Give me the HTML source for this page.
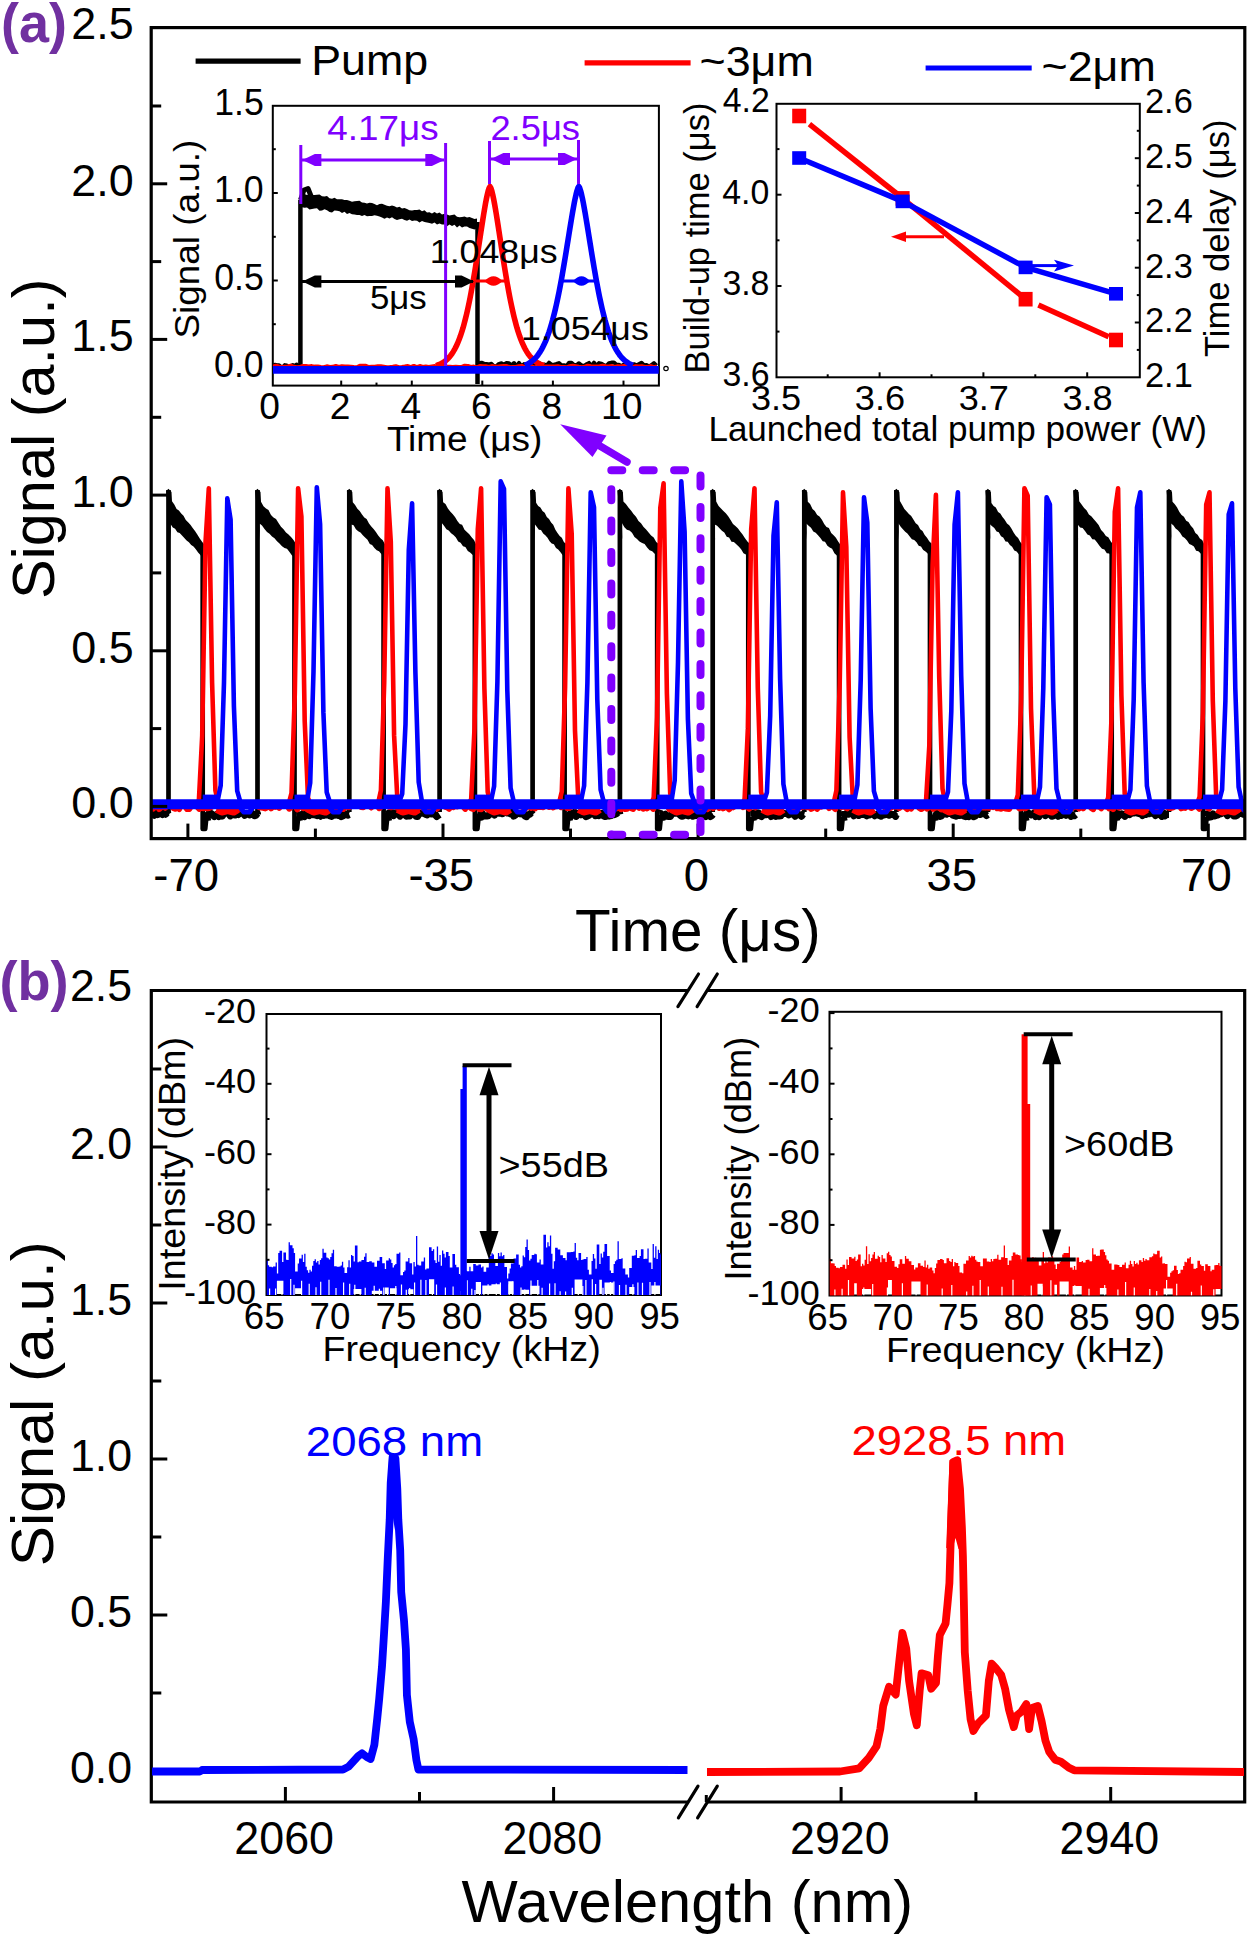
<!DOCTYPE html>
<html><head><meta charset="utf-8"><style>
html,body{margin:0;padding:0;background:#fff;}
svg{display:block;}
text{font-family:"Liberation Sans", sans-serif;}
</style></head><body>
<svg width="1250" height="1938" viewBox="0 0 1250 1938">
<defs>
<clipPath id="clipA"><rect x="151.2" y="27.6" width="1093.6" height="811"/></clipPath>
<clipPath id="clipI1"><rect x="272.8" y="105.8" width="386.1" height="279.8"/></clipPath>
</defs>
<rect width="1250" height="1938" fill="#fff"/>
<g clip-path="url(#clipA)">
<polyline points="151.2,813.7 152.8,813 154.4,815.2 156,812.6 157.6,814.7 159.2,813.9 160.8,812.6 162.4,814.5 164,812.5 165.6,814.2 167.2,812.6 168.5,814.5" fill="none" stroke="#000" stroke-width="7" stroke-linejoin="round"/>
<polyline points="204.7,812.7 206.3,814.2 207.9,815.9 209.5,812.8 211.1,813.3 212.7,815.1 214.3,816.5 215.9,814.8 217.5,814 219.1,816.6 220.7,812.5 222.3,816.1 223.9,813.6 225.5,812.9 227.1,812.8 228.7,813.7 230.3,815.9 231.9,813.1 233.5,814.9 235.1,815.1 236.7,813.9 238.3,814.7 239.9,812.6 241.5,812.6 243.1,813.2 244.7,815.3 246.3,814.2 247.9,813.7 249.5,814.9 251.1,814.3 252.7,813.6 254.3,815.8 255.9,815.4 257.5,813.4 257.5,814.5" fill="none" stroke="#000" stroke-width="7" stroke-linejoin="round"/>
<polyline points="296.5,814.8 298.1,814.6 299.7,816.2 301.3,815.5 302.9,813.6 304.5,816.6 306.1,812.8 307.7,814.1 309.3,815.6 310.9,813 312.5,814.5 314.1,812.5 315.7,815.2 317.3,815.7 318.9,814.8 320.5,816.2 322.1,813.7 323.7,815.4 325.3,814.9 326.9,814.9 328.5,814.3 330.1,816 331.7,816.5 333.3,814.4 334.9,815.2 336.5,812.6 338.1,815.4 339.7,815.1 341.3,816.7 342.9,815.9 344.5,813.6 346.1,814 347.7,815.2 349.3,814.5" fill="none" stroke="#000" stroke-width="7" stroke-linejoin="round"/>
<polyline points="385.6,812.4 387.2,814.3 388.8,813 390.4,812.8 392,812.6 393.6,815.7 395.2,812.9 396.8,813.4 398.4,814 400,816.1 401.6,812.7 403.2,814.3 404.8,814.7 406.4,816.2 408,815.9 409.6,816.1 411.2,813.5 412.8,814.1 414.4,813.9 416,816.2 417.6,816.5 419.2,813 420.8,813.1 422.4,813.3 424,813.3 425.6,814.4 427.2,814.9 428.8,813.5 430.4,812.3 432,814.1 433.6,813.9 435.2,814.8 436.8,816.5 438.4,815.3 439.6,814.5" fill="none" stroke="#000" stroke-width="7" stroke-linejoin="round"/>
<polyline points="476.9,814.6 478.5,815 480.1,815.3 481.7,812.5 483.3,816.3 484.9,815.7 486.5,816.1 488.1,815.8 489.7,814 491.3,814.1 492.9,812.8 494.5,815.1 496.1,812.6 497.7,812.6 499.3,813.2 500.9,813 502.5,813.8 504.1,812.5 505.7,812.3 507.3,813 508.9,812.7 510.5,813.9 512.1,812.4 513.7,816.1 515.3,815 516.9,813 518.5,813.4 520.1,813.8 521.7,813.9 523.3,812.8 524.9,816 526.5,816.7 528.1,814.4 529.7,814.4 531.3,812.7 532.6,814.5" fill="none" stroke="#000" stroke-width="7" stroke-linejoin="round"/>
<polyline points="566.6,812.7 568.2,813.8 569.8,813.5 571.4,815.9 573,813 574.6,812.4 576.2,816.5 577.8,814.6 579.4,812.9 581,814.7 582.6,812.4 584.2,814.6 585.8,816.6 587.4,816.1 589,815.4 590.6,813.4 592.2,813.9 593.8,813 595.4,815.7 597,814.6 598.6,815.7 600.2,813.8 601.8,813.3 603.4,815.9 605,816.6 606.6,816.1 608.2,815.8 609.8,815.9 611.4,815.6 613,813.3 614.6,814.6 616.2,813.9 617.8,812.4 619.4,812.4 619.9,814.5" fill="none" stroke="#000" stroke-width="7" stroke-linejoin="round"/>
<polyline points="659.2,813.5 660.8,813.4 662.4,815.3 664,816.5 665.6,814.3 667.2,816.4 668.8,816.6 670.4,816.5 672,813.9 673.6,813.3 675.2,813.3 676.8,813.2 678.4,813.2 680,815 681.6,816.3 683.2,816 684.8,814.4 686.4,815.2 688,815.8 689.6,812.7 691.2,815.2 692.8,816.3 694.4,815.7 696,815.6 697.6,814.4 699.2,813.1 700.8,815.8 702.4,813.8 704,815.8 705.6,816.6 707.2,814 708.8,814.1 710.4,816.5 712,815.5 712.7,814.5" fill="none" stroke="#000" stroke-width="7" stroke-linejoin="round"/>
<polyline points="750.3,813 751.9,812.9 753.5,813 755.1,816.3 756.7,815.8 758.3,812.9 759.9,815.9 761.5,816.6 763.1,815.2 764.7,813.8 766.3,814.7 767.9,812.9 769.5,812.4 771.1,816.6 772.7,815.2 774.3,814.6 775.9,816.4 777.5,814.2 779.1,816.1 780.7,815.9 782.3,813.2 783.9,813.4 785.5,813.6 787.1,813.4 788.7,814.9 790.3,813.4 791.9,814.1 793.5,812.9 795.1,816.3 796.7,813.9 798.3,814.3 799.9,814.9 801.5,816.3 803.1,814.2 804.3,814.5" fill="none" stroke="#000" stroke-width="7" stroke-linejoin="round"/>
<polyline points="841.1,816.3 842.7,814.5 844.3,814.6 845.9,814.6 847.5,812.4 849.1,814.2 850.7,813.1 852.3,812.3 853.9,815.8 855.5,813.1 857.1,814.4 858.7,815.5 860.3,814.7 861.9,813.7 863.5,814.6 865.1,814.7 866.7,815.8 868.3,812.8 869.9,814.8 871.5,813.4 873.1,813.5 874.7,815.7 876.3,814.5 877.9,814.8 879.5,815.6 881.1,816.3 882.7,814.3 884.3,815 885.9,814.5 887.5,814.6 889.1,815.3 890.7,814.3 892.3,814.6 893.9,814.4 895.5,816.4 896.4,814.5" fill="none" stroke="#000" stroke-width="7" stroke-linejoin="round"/>
<polyline points="932,815.4 933.6,816.2 935.2,816.4 936.8,813.4 938.4,814.8 940,816.5 941.6,816 943.2,812.9 944.8,812.8 946.4,814.2 948,812.6 949.6,813.4 951.2,812.6 952.8,815.2 954.4,815.7 956,816.2 957.6,813 959.2,815.5 960.8,815.2 962.4,812.9 964,816.2 965.6,816.6 967.2,813.3 968.8,816.5 970.4,814.1 972,814.4 973.6,816.7 975.2,816 976.8,813 978.4,814.2 980,814.6 981.6,813.8 983.2,813.2 984.8,813.7 986.4,815.5 987.9,814.5" fill="none" stroke="#000" stroke-width="7" stroke-linejoin="round"/>
<polyline points="1023,812.4 1024.6,814.7 1026.2,814.2 1027.8,812.4 1029.4,813.8 1031,815 1032.6,814.6 1034.2,812.6 1035.8,816.6 1037.4,815.8 1039,816.6 1040.6,812.8 1042.2,813.5 1043.8,812.5 1045.4,815.7 1047,813.5 1048.6,812.9 1050.2,814.2 1051.8,816.3 1053.4,815.9 1055,813.4 1056.6,813 1058.2,816.3 1059.8,814.8 1061.4,815.4 1063,812.7 1064.6,812.6 1066.2,815.3 1067.8,814.2 1069.4,812.6 1071,816.4 1072.6,815.1 1074.2,815.8 1075.7,814.5" fill="none" stroke="#000" stroke-width="7" stroke-linejoin="round"/>
<polyline points="1113.7,812.7 1115.3,816.1 1116.9,812.6 1118.5,816.1 1120.1,814.3 1121.7,813.8 1123.3,814.7 1124.9,816.4 1126.5,813.5 1128.1,812.9 1129.7,814.6 1131.3,813.3 1132.9,812.8 1134.5,813 1136.1,812.5 1137.7,813.2 1139.3,813.7 1140.9,813.6 1142.5,815.6 1144.1,813.6 1145.7,814.5 1147.3,813.1 1148.9,813.8 1150.5,812.4 1152.1,813.4 1153.7,812.4 1155.3,815.5 1156.9,814.7 1158.5,813.1 1160.1,814.4 1161.7,816.4 1163.3,812.8 1164.9,815.9 1166.5,814.2 1168.1,814.5 1169,814.5" fill="none" stroke="#000" stroke-width="7" stroke-linejoin="round"/>
<polyline points="1205,816 1206.6,814 1208.2,814.5 1209.8,815.3 1211.4,816.6 1213,813.8 1214.6,816 1216.2,815.4 1217.8,815.1 1219.4,814.1 1221,813.8 1222.6,812.5 1224.2,812.9 1225.8,812.6 1227.4,815.6 1229,813.4 1230.6,813 1232.2,812.7 1233.8,816 1235.4,816.1 1237,815.3 1238.6,813.5 1240.2,813.4 1241.8,813.6 1243.4,814.3 1244.8,814.5" fill="none" stroke="#000" stroke-width="7" stroke-linejoin="round"/>
<line x1="168.5" y1="812" x2="168.5" y2="490" stroke="#000" stroke-width="4.7"/>
<polygon points="166.1,491 168.5,488.8 171.5,492 172,501.2 174.3,504.4 176.6,509.1 178.9,510.4 181.2,513.5 183.5,515.8 185.8,519.9 188.1,522.3 190.4,524.8 192.7,528 195,530.9 197.3,534.5 199.6,538.2 201.9,541.6 204.2,544.5 204.7,551 202.7,557.9 200.4,555 198.1,552.4 195.8,549.3 193.5,546.4 191.2,545 188.9,542.3 186.6,540.5 184.3,538.1 182,535.5 179.7,533.1 177.4,532.2 175.1,528.8 172.8,527.5 170.5,523.9 170.9,540" fill="#000"/>
<polyline points="202.7,548 202.7,829 205.2,829 206.2,819 210.7,818" fill="none" stroke="#000" stroke-width="4.7" stroke-linejoin="round"/>
<line x1="257.5" y1="812" x2="257.5" y2="490" stroke="#000" stroke-width="4.7"/>
<polygon points="255.1,491 257.5,488.8 260.5,492 261,501.7 263.5,506.2 266,508.5 268.5,509.9 271,514.9 273.5,517.6 276,519.1 278.5,523 281,526.7 283.5,529.2 286,532.4 288.5,534.4 291,537.1 293.5,540.1 296,544.1 296.5,551 294.5,557.3 292,555.4 289.5,552 287,548.8 284.5,548 282,546.2 279.5,543.6 277,541.3 274.5,538.2 272,536.5 269.5,533.7 267,531.9 264.5,529.1 262,525.5 259.5,523.6 259.9,540" fill="#000"/>
<polyline points="294.5,548 294.5,829 297,829 298,819 302.5,818" fill="none" stroke="#000" stroke-width="4.7" stroke-linejoin="round"/>
<line x1="349.3" y1="812" x2="349.3" y2="490" stroke="#000" stroke-width="4.7"/>
<polygon points="346.9,491 349.3,488.8 352.3,492 352.8,502.3 355.1,505 357.4,508.7 359.7,511 362,514.4 364.3,517.6 366.6,519 369,523.6 371.3,526.6 373.6,529 375.9,531.9 378.2,535.6 380.5,538.3 382.8,540.2 385.1,544.6 385.6,551 383.6,556.5 381.3,554.1 379,551.3 376.7,550.2 374.4,548 372.1,544.9 369.8,544 367.5,539.8 365.1,537.6 362.8,535.2 360.5,532.4 358.2,531.2 355.9,529.3 353.6,525.2 351.3,524.4 351.7,540" fill="#000"/>
<polyline points="383.6,548 383.6,829 386.1,829 387.1,819 391.6,818" fill="none" stroke="#000" stroke-width="4.7" stroke-linejoin="round"/>
<line x1="439.6" y1="812" x2="439.6" y2="490" stroke="#000" stroke-width="4.7"/>
<polygon points="437.2,491 439.6,488.8 442.6,492 443.1,502.2 445.5,503.9 447.9,508.4 450.2,511.4 452.6,514 455,516.9 457.4,520.9 459.8,524.1 462.1,524.8 464.5,529.8 466.9,531.9 469.3,534.3 471.6,537.3 474,540.1 476.4,545.1 476.9,551 474.9,556.1 472.5,554.7 470.1,552.5 467.8,551 465.4,547 463,546.3 460.6,542.8 458.2,541.5 455.9,537.4 453.5,534.9 451.1,533.3 448.7,530.6 446.4,529.2 444,525.8 441.6,522.8 442,540" fill="#000"/>
<polyline points="474.9,548 474.9,829 477.4,829 478.4,819 482.9,818" fill="none" stroke="#000" stroke-width="4.7" stroke-linejoin="round"/>
<line x1="532.6" y1="812" x2="532.6" y2="490" stroke="#000" stroke-width="4.7"/>
<polygon points="530.2,491 532.6,488.8 535.6,492 536.1,502.8 538.2,505.9 540.4,507.4 542.5,511 544.7,512.8 546.8,516.9 549,519.1 551.1,522.6 553.2,524.8 555.4,529.8 557.5,533 559.7,536 561.8,537.7 564,542.2 566.1,543.7 566.6,551 564.6,556.8 562.5,554.9 560.3,552 558.2,549.4 556,548.1 553.9,544.3 551.7,543.5 549.6,541.3 547.5,537.8 545.3,535.3 543.2,533.4 541,529.9 538.9,529.7 536.7,526.8 534.6,524 535,540" fill="#000"/>
<polyline points="564.6,548 564.6,829 567.1,829 568.1,819 572.6,818" fill="none" stroke="#000" stroke-width="4.7" stroke-linejoin="round"/>
<line x1="619.9" y1="812" x2="619.9" y2="490" stroke="#000" stroke-width="4.7"/>
<polygon points="617.5,491 619.9,488.8 622.9,492 623.4,501.5 625.9,504 628.4,507.5 631,510.4 633.5,514 636,516.7 638.5,520.9 641,523.3 643.6,527.1 646.1,529.5 648.6,532.6 651.1,535.6 653.7,537.5 656.2,542 658.7,543.9 659.2,551 657.2,556.6 654.7,553.7 652.2,551.2 649.6,550.3 647.1,547.5 644.6,544.1 642.1,543 639.5,541.5 637,538.9 634.5,536.9 632,532.7 629.5,530.5 626.9,529.8 624.4,527.2 621.9,522.9 622.3,540" fill="#000"/>
<polyline points="657.2,548 657.2,829 659.7,829 660.7,819 665.2,818" fill="none" stroke="#000" stroke-width="4.7" stroke-linejoin="round"/>
<line x1="712.7" y1="812" x2="712.7" y2="490" stroke="#000" stroke-width="4.7"/>
<polygon points="710.3,491 712.7,488.8 715.7,492 716.2,501.5 718.6,506.1 721,508.4 723.4,511.1 725.8,513.2 728.2,516.3 730.6,520 733,524 735.4,525.9 737.8,528.3 740.2,531.6 742.6,534.4 745,538.2 747.4,541.6 749.8,543.8 750.3,551 748.3,557.1 745.9,554.4 743.5,553.2 741.1,549.3 738.7,546.6 736.3,544.2 733.9,542 731.5,541.7 729.1,537.5 726.7,536.8 724.3,532.6 721.9,530.8 719.5,528.2 717.1,525.8 714.7,524.6 715.1,540" fill="#000"/>
<polyline points="748.3,548 748.3,829 750.8,829 751.8,819 756.3,818" fill="none" stroke="#000" stroke-width="4.7" stroke-linejoin="round"/>
<line x1="804.3" y1="812" x2="804.3" y2="490" stroke="#000" stroke-width="4.7"/>
<polygon points="801.9,491 804.3,488.8 807.3,492 807.8,501.7 810.1,503.9 812.5,509.1 814.8,511 817.2,514.9 819.5,516.5 821.9,519.8 824.2,524.1 826.5,526.9 828.9,527.9 831.2,532.9 833.6,535.2 835.9,537.7 838.3,541.8 840.6,545.1 841.1,551 839.1,556.4 836.8,555.5 834.4,553.3 832.1,548.7 829.7,547.5 827.4,545.7 825,541.7 822.7,541.3 820.4,538 818,535.2 815.7,532.7 813.3,531.4 811,527.8 808.6,525.8 806.3,523.6 806.7,540" fill="#000"/>
<polyline points="839.1,548 839.1,829 841.6,829 842.6,819 847.1,818" fill="none" stroke="#000" stroke-width="4.7" stroke-linejoin="round"/>
<line x1="896.4" y1="812" x2="896.4" y2="490" stroke="#000" stroke-width="4.7"/>
<polygon points="894,491 896.4,488.8 899.4,492 899.9,501.1 902.2,505.1 904.4,509.1 906.7,511.4 908.9,513.9 911.2,515.9 913.4,519.4 915.7,523.3 918,525.1 920.2,529.3 922.5,531.1 924.7,535.1 927,537.7 929.2,541.2 931.5,543.5 932,551 930,556.9 927.7,553.5 925.5,551.6 923.2,550.1 921,546.5 918.7,545.7 916.5,542.3 914.2,540 911.9,539.2 909.7,536.5 907.4,533.6 905.2,531.7 902.9,529.2 900.7,526.8 898.4,523.2 898.8,540" fill="#000"/>
<polyline points="930,548 930,829 932.5,829 933.5,819 938,818" fill="none" stroke="#000" stroke-width="4.7" stroke-linejoin="round"/>
<line x1="987.9" y1="812" x2="987.9" y2="490" stroke="#000" stroke-width="4.7"/>
<polygon points="985.5,491 987.9,488.8 990.9,492 991.4,503.1 993.6,505.9 995.8,507.4 998.1,512.1 1000.3,513.5 1002.5,517 1004.7,519.8 1007,523.4 1009.2,525.3 1011.4,528.6 1013.6,532.4 1015.8,535.7 1018.1,538 1020.3,542.1 1022.5,544.8 1023,551 1021,556.4 1018.8,554.2 1016.6,551.6 1014.3,550.5 1012.1,546.8 1009.9,545 1007.7,541.7 1005.5,541.5 1003.2,537.6 1001,536.2 998.8,532.3 996.6,531.6 994.3,528.1 992.1,526.3 989.9,524.3 990.3,540" fill="#000"/>
<polyline points="1021,548 1021,829 1023.5,829 1024.5,819 1029,818" fill="none" stroke="#000" stroke-width="4.7" stroke-linejoin="round"/>
<line x1="1075.7" y1="812" x2="1075.7" y2="490" stroke="#000" stroke-width="4.7"/>
<polygon points="1073.3,491 1075.7,488.8 1078.7,492 1079.2,501.3 1081.6,504.5 1084.1,508 1086.5,510.3 1088.9,514.4 1091.3,516.2 1093.8,519.3 1096.2,522.1 1098.6,524.9 1101.1,530 1103.5,532.6 1105.9,536 1108.3,537.2 1110.8,541.6 1113.2,544.4 1113.7,551 1111.7,556.7 1109.3,553.5 1106.8,553.3 1104.4,549.5 1102,548.8 1099.6,546.1 1097.1,542.6 1094.7,539.4 1092.3,539.3 1089.8,535.5 1087.4,534.5 1085,530.9 1082.6,528 1080.1,527.4 1077.7,524.6 1078.1,540" fill="#000"/>
<polyline points="1111.7,548 1111.7,829 1114.2,829 1115.2,819 1119.7,818" fill="none" stroke="#000" stroke-width="4.7" stroke-linejoin="round"/>
<line x1="1169" y1="812" x2="1169" y2="490" stroke="#000" stroke-width="4.7"/>
<polygon points="1166.6,491 1169,488.8 1172,492 1172.5,501.7 1174.8,504.2 1177.1,507.5 1179.4,512.1 1181.6,515.1 1183.9,516.7 1186.2,520.8 1188.5,521.9 1190.8,525.7 1193.1,528.3 1195.4,533 1197.6,534.8 1199.9,538.6 1202.2,539.9 1204.5,545 1205,551 1203,556.4 1200.7,553.6 1198.4,551.2 1196.1,550.7 1193.9,546.4 1191.6,544.9 1189.3,543.9 1187,540.4 1184.7,538 1182.4,536.6 1180.1,532.7 1177.9,530.2 1175.6,528.4 1173.3,525.2 1171,523.6 1171.4,540" fill="#000"/>
<polyline points="1203,548 1203,829 1205.5,829 1206.5,819 1211,818" fill="none" stroke="#000" stroke-width="4.7" stroke-linejoin="round"/>
<polyline points="151.2,807.9 153.2,808.7 155.2,805.6 157.2,805.2 159.2,809.1 161.2,807.2 163.2,805.2 165.2,807.7 167.2,805.5 169.2,805.2 171.2,803.7 173.2,807.9 175.2,808.8 177.2,807.3 179.2,809 181.2,803.8 183.2,805 185.2,806.4 187.2,809.1 189.2,809 191.2,805.9 193.2,805.1 195.2,806.1 197.2,806.5 199.2,808.9 201.2,804.7 203.2,808.2 205.2,807.8 207.2,808.3 209.2,808 211.2,807.1 213.2,805.5 215.2,805.5 217.2,805.7 219.2,808.1 221.2,804.1 223.2,804.8 225.2,807.9 227.2,805.1 229.2,804.1 231.2,803.9 233.2,806.8 235.2,805.5 237.2,809.2 239.2,808.6 241.2,809.2 243.2,805.2 245.2,804.2 247.2,804.2 249.2,806.5 251.2,807.7 253.2,806.2 255.2,805 257.2,806 259.2,807.2 261.2,807.5 263.2,807.9 265.2,808.4 267.2,807.4 269.2,804.4 271.2,808.4 273.2,805.3 275.2,806.9 277.2,805.8 279.2,807.8 281.2,804.8 283.2,805.1 285.2,805.1 287.2,804.6 289.2,808.7 291.2,806.9 293.2,805.5 295.2,805.9 297.2,809.3 299.2,806.5 301.2,805 303.2,808.2 305.2,807.4 307.2,809.2 309.2,804.3 311.2,806.4 313.2,808.3 315.2,808.4 317.2,808.8 319.2,803.9 321.2,805.3 323.2,804.4 325.2,804.8 327.2,809.1 329.2,807 331.2,808.9 333.2,805.8 335.2,808.6 337.2,806.2 339.2,805.2 341.2,808.1 343.2,809 345.2,804.3 347.2,807 349.2,807.2 351.2,804.9 353.2,805.8 355.2,804.5 357.2,804.8 359.2,805.1 361.2,807.1 363.2,807.3 365.2,804.8 367.2,803.8 369.2,805.5 371.2,807.5 373.2,804.7 375.2,805.4 377.2,804.8 379.2,808.2 381.2,806.8 383.2,804.1 385.2,804.3 387.2,805.9 389.2,806.8 391.2,807.3 393.2,804.2 395.2,804.6 397.2,807.6 399.2,806 401.2,805.3 403.2,805.4 405.2,809 407.2,805.4 409.2,806.9 411.2,805.7 413.2,806 415.2,808.5 417.2,809.3 419.2,805.7 421.2,804.8 423.2,807.8 425.2,804.8 427.2,803.7 429.2,808.7 431.2,806.1 433.2,808.3 435.2,806 437.2,808.6 439.2,806.3 441.2,804.6 443.2,803.8 445.2,806.8 447.2,807.3 449.2,808.8 451.2,804.2 453.2,807.2 455.2,805.8 457.2,806.5 459.2,804.5 461.2,805.3 463.2,806.6 465.2,808.9 467.2,804.3 469.2,806.4 471.2,808.2 473.2,809.1 475.2,804.8 477.2,804.4 479.2,809 481.2,809.2 483.2,806.4 485.2,804 487.2,808.9 489.2,805.9 491.2,808.8 493.2,807.2 495.2,808.3 497.2,804.6 499.2,808.1 501.2,804.9 503.2,806 505.2,808.4 507.2,808.3 509.2,804.7 511.2,804.9 513.2,805.9 515.2,806.6 517.2,805.8 519.2,804.4 521.2,805.1 523.2,807.8 525.2,808.7 527.2,803.9 529.2,806.8 531.2,807.9 533.2,803.9 535.2,808.4 537.2,804.4 539.2,807.1 541.2,806.8 543.2,807.2 545.2,805.4 547.2,806.1 549.2,807 551.2,806.1 553.2,807.4 555.2,806.2 557.2,806.2 559.2,803.8 561.2,807.2 563.2,806.4 565.2,805 567.2,808 569.2,808.1 571.2,806.3 573.2,804.7 575.2,806.4 577.2,804.3 579.2,804.4 581.2,806.1 583.2,804.2 585.2,806.2 587.2,806.6 589.2,803.9 591.2,807.3 593.2,804.2 595.2,807.8 597.2,808.1 599.2,806.6 601.2,804 603.2,806.5 605.2,805.8 607.2,809 609.2,804.5 611.2,808.5 613.2,809.3 615.2,807.8 617.2,808.3 619.2,804.8 621.2,809.2 623.2,806.5 625.2,809.1 627.2,808.8 629.2,804.6 631.2,808.1 633.2,808.9 635.2,804.1 637.2,805.7 639.2,807.9 641.2,804.6 643.2,808.7 645.2,805.2 647.2,808.3 649.2,804.5 651.2,806.5 653.2,808.9 655.2,804.9 657.2,805.2 659.2,806.5 661.2,805.5 663.2,803.9 665.2,804.7 667.2,804.6 669.2,808.9 671.2,807.5 673.2,808.7 675.2,804.6 677.2,808.1 679.2,804.3 681.2,806.7 683.2,807.3 685.2,805.7 687.2,808.6 689.2,806.8 691.2,806.9 693.2,808.6 695.2,804.3 697.2,809.3 699.2,807.2 701.2,805.9 703.2,808.2 705.2,805.2 707.2,809.2 709.2,806.9 711.2,805.7 713.2,808 715.2,806.2 717.2,804.7 719.2,807.9 721.2,804 723.2,808.3 725.2,805.1 727.2,807.3 729.2,809.2 731.2,807 733.2,807.4 735.2,805.5 737.2,803.7 739.2,803.9 741.2,804.5 743.2,807.1 745.2,806.1 747.2,806.6 749.2,808.7 751.2,804.4 753.2,805 755.2,807.4 757.2,803.8 759.2,803.7 761.2,805.7 763.2,804.3 765.2,805.7 767.2,805 769.2,807 771.2,807 773.2,804.8 775.2,807.2 777.2,806.4 779.2,804.5 781.2,808.9 783.2,805.1 785.2,804.5 787.2,804.2 789.2,807.3 791.2,808.6 793.2,808.1 795.2,806 797.2,805.2 799.2,803.8 801.2,807.3 803.2,806.8 805.2,805.7 807.2,807.3 809.2,806.2 811.2,808.9 813.2,807.8 815.2,805.1 817.2,808.8 819.2,803.9 821.2,806.7 823.2,806 825.2,805 827.2,804 829.2,808.1 831.2,803.8 833.2,806.8 835.2,809 837.2,804.5 839.2,804.8 841.2,807.1 843.2,806.5 845.2,807.3 847.2,808.3 849.2,804.7 851.2,805.4 853.2,805.4 855.2,804 857.2,808.7 859.2,808.1 861.2,807.7 863.2,803.7 865.2,808.4 867.2,807.9 869.2,806.3 871.2,807.9 873.2,806.2 875.2,805 877.2,804.3 879.2,805 881.2,803.9 883.2,805.6 885.2,807.9 887.2,807.6 889.2,808.4 891.2,807.7 893.2,805.2 895.2,806.8 897.2,806.1 899.2,808.1 901.2,806.6 903.2,805.2 905.2,807.3 907.2,809.1 909.2,804.9 911.2,808.6 913.2,803.8 915.2,805.2 917.2,805 919.2,807.9 921.2,809 923.2,807.9 925.2,805.5 927.2,808.6 929.2,805.5 931.2,805 933.2,808.8 935.2,807.2 937.2,807.6 939.2,807.4 941.2,809.2 943.2,806.3 945.2,808.4 947.2,807.6 949.2,808.5 951.2,806.1 953.2,807.8 955.2,806.9 957.2,805.4 959.2,804.9 961.2,807.2 963.2,804.1 965.2,808.8 967.2,804.5 969.2,803.9 971.2,804.3 973.2,808.9 975.2,805.6 977.2,804.5 979.2,803.9 981.2,803.9 983.2,807.6 985.2,807.2 987.2,807.6 989.2,807.8 991.2,804.1 993.2,807 995.2,805.7 997.2,808.3 999.2,808.3 1001.2,808.7 1003.2,804.1 1005.2,808.6 1007.2,808.8 1009.2,809 1011.2,804.3 1013.2,804.9 1015.2,804.3 1017.2,803.9 1019.2,808.4 1021.2,808.2 1023.2,807.3 1025.2,808.3 1027.2,807.2 1029.2,805.3 1031.2,804.3 1033.2,804.2 1035.2,807.9 1037.2,804.8 1039.2,805.5 1041.2,806.1 1043.2,803.8 1045.2,805.1 1047.2,805.3 1049.2,807.7 1051.2,805.8 1053.2,805.5 1055.2,809.1 1057.2,806.5 1059.2,808.5 1061.2,807.2 1063.2,803.9 1065.2,806 1067.2,806.1 1069.2,808 1071.2,805.6 1073.2,807.6 1075.2,806.7 1077.2,804.9 1079.2,808.5 1081.2,804.2 1083.2,808.3 1085.2,804.7 1087.2,803.7 1089.2,804.8 1091.2,808 1093.2,809.2 1095.2,803.7 1097.2,806.4 1099.2,806.5 1101.2,808.2 1103.2,804.7 1105.2,806.5 1107.2,805.6 1109.2,808.4 1111.2,805.2 1113.2,809 1115.2,805.3 1117.2,804.9 1119.2,807.6 1121.2,806.5 1123.2,804.3 1125.2,807.3 1127.2,804.2 1129.2,808.1 1131.2,807.6 1133.2,808.1 1135.2,807.2 1137.2,805.7 1139.2,805.9 1141.2,805.9 1143.2,808.7 1145.2,804.2 1147.2,808.7 1149.2,803.8 1151.2,804.9 1153.2,805.2 1155.2,808.7 1157.2,806.5 1159.2,805.8 1161.2,808.7 1163.2,805 1165.2,806.3 1167.2,806.7 1169.2,807.9 1171.2,807.9 1173.2,807.3 1175.2,805.7 1177.2,805.5 1179.2,804.6 1181.2,808.4 1183.2,807.4 1185.2,807.9 1187.2,804.6 1189.2,806.2 1191.2,808 1193.2,806.9 1195.2,804.4 1197.2,806.3 1199.2,808.7 1201.2,805 1203.2,804.8 1205.2,805.4 1207.2,807.6 1209.2,808.4 1211.2,804.6 1213.2,804.6 1215.2,805.1 1217.2,805.5 1219.2,806.6 1221.2,804.6 1223.2,805.5 1225.2,804.8 1227.2,809.2 1229.2,807.8 1231.2,804.3 1233.2,809.1 1235.2,804.3 1237.2,805.9 1239.2,809.2 1241.2,808.2 1243.2,807.8" fill="none" stroke="#ff0000" stroke-width="6" stroke-linejoin="round"/>
<polyline points="216.7,809 221.7,811.5 227.7,810 233.7,811.5 237.7,809" fill="none" stroke="#ff0000" stroke-width="8" stroke-linejoin="round"/>
<polyline points="192.3,806 195.6,805.8 198.9,799.9 202.2,735.6 205.5,542.5 208.8,488.3 212.1,682.7 215.4,790.6 218.7,805.4 222,806 225.3,806" fill="none" stroke="#ff0000" stroke-width="4.6" stroke-linejoin="round"/>
<polyline points="308.5,809 313.5,811.5 319.5,810 325.5,811.5 329.5,809" fill="none" stroke="#ff0000" stroke-width="8" stroke-linejoin="round"/>
<polyline points="281.6,806 284.9,806 288.2,805.5 291.5,793.2 294.8,693.7 298.1,488.3 301.4,516.6 304.7,721.1 308,798 311.3,805.8 314.6,806" fill="none" stroke="#ff0000" stroke-width="4.6" stroke-linejoin="round"/>
<polyline points="397.6,809 402.6,811.5 408.6,810 414.6,811.5 418.6,809" fill="none" stroke="#ff0000" stroke-width="8" stroke-linejoin="round"/>
<polyline points="371,806 374.3,806 377.6,805.4 380.9,790.6 384.2,682.9 387.5,488.3 390.8,542 394.1,735.4 397.4,799.9 400.7,805.8 404,806" fill="none" stroke="#ff0000" stroke-width="4.6" stroke-linejoin="round"/>
<polyline points="488.9,809 493.9,811.5 499.9,810 505.9,811.5 509.9,809" fill="none" stroke="#ff0000" stroke-width="8" stroke-linejoin="round"/>
<polyline points="464.6,806 467.9,805.8 471.2,799 474.5,728.4 477.8,529.3 481.1,488.3 484.4,688.6 487.7,792 491,805.5 494.3,806 497.6,806" fill="none" stroke="#ff0000" stroke-width="4.6" stroke-linejoin="round"/>
<polyline points="578.6,809 583.6,811.5 589.6,810 595.6,811.5 599.6,809" fill="none" stroke="#ff0000" stroke-width="8" stroke-linejoin="round"/>
<polyline points="551.9,806 555.2,806 558.5,805.4 561.8,791.5 565.1,686.6 568.4,488.3 571.7,533.9 575,730.9 578.3,799.3 581.6,805.8 584.9,806" fill="none" stroke="#ff0000" stroke-width="4.6" stroke-linejoin="round"/>
<polyline points="671.2,809 676.2,811.5 682.2,810 688.2,811.5 692.2,809" fill="none" stroke="#ff0000" stroke-width="8" stroke-linejoin="round"/>
<polyline points="647.1,806 650.4,805.7 653.7,797.5 657,717.3 660.3,507.8 663.6,483.3 666.9,693.6 670.2,793.4 673.5,805.5 676.8,806 680.1,806" fill="none" stroke="#ff0000" stroke-width="4.6" stroke-linejoin="round"/>
<polyline points="762.3,809 767.3,811.5 773.3,810 779.3,811.5 783.3,809" fill="none" stroke="#ff0000" stroke-width="8" stroke-linejoin="round"/>
<polyline points="738,806 741.3,805.8 744.6,799 747.9,728.4 751.2,529.3 754.5,488.3 757.8,688.5 761.1,792 764.4,805.5 767.7,806 771,806" fill="none" stroke="#ff0000" stroke-width="4.6" stroke-linejoin="round"/>
<polyline points="853.1,809 858.1,811.5 864.1,810 870.1,811.5 874.1,809" fill="none" stroke="#ff0000" stroke-width="8" stroke-linejoin="round"/>
<polyline points="826.5,806 829.8,806 833.1,805.4 836.4,790.6 839.7,683.7 843,492.3 846.3,546.9 849.6,737.1 852.9,800.1 856.2,805.8 859.5,806" fill="none" stroke="#ff0000" stroke-width="4.6" stroke-linejoin="round"/>
<polyline points="944,809 949,811.5 955,810 961,811.5 965,809" fill="none" stroke="#ff0000" stroke-width="8" stroke-linejoin="round"/>
<polyline points="919.4,806 922.7,805.9 926,801.2 929.3,746 932.6,565.1 935.9,494.8 939.2,676.5 942.5,788.7 945.8,805.3 949.1,806 952.4,806" fill="none" stroke="#ff0000" stroke-width="4.6" stroke-linejoin="round"/>
<polyline points="1035,809 1040,811.5 1046,810 1052,811.5 1056,809" fill="none" stroke="#ff0000" stroke-width="8" stroke-linejoin="round"/>
<polyline points="1007.9,806 1011.2,806 1014.5,805.6 1017.8,794.9 1021.1,701.2 1024.4,488.3 1027.7,495.7 1031,708.4 1034.3,796.1 1037.6,805.7 1040.9,806" fill="none" stroke="#ff0000" stroke-width="4.6" stroke-linejoin="round"/>
<polyline points="1125.7,809 1130.7,811.5 1136.7,810 1142.7,811.5 1146.7,809" fill="none" stroke="#ff0000" stroke-width="8" stroke-linejoin="round"/>
<polyline points="1101.6,806 1104.9,805.7 1108.2,797.6 1111.5,718.3 1114.8,511.8 1118.1,488.3 1121.4,695.5 1124.7,793.6 1128,805.6 1131.3,806 1134.6,806" fill="none" stroke="#ff0000" stroke-width="4.6" stroke-linejoin="round"/>
<polyline points="1217,809 1222,811.5 1228,810 1234,811.5 1238,809" fill="none" stroke="#ff0000" stroke-width="8" stroke-linejoin="round"/>
<polyline points="1193,806 1196.3,805.7 1199.6,796.7 1202.9,712.7 1206.2,504.5 1209.5,492.3 1212.8,700.9 1216.1,794.7 1219.4,805.6 1222.7,806 1226,806" fill="none" stroke="#ff0000" stroke-width="4.6" stroke-linejoin="round"/>
<polyline points="151.2,804.3 1244.8,804.3" fill="none" stroke="#0000ff" stroke-width="10" stroke-linejoin="round"/>
<rect x="202.7" y="794.6" width="17" height="8" fill="#0000ff"/>
<polyline points="210.8,803 214.1,803 217.4,802.1 220.7,785.5 224,682.4 227.3,498.3 230.6,519.7 233.9,706.1 237.2,790.8 240.5,802.4 243.8,803" fill="none" stroke="#0000ff" stroke-width="4.6" stroke-linejoin="round"/>
<polyline points="240.7,808 243.7,812 249.7,812 252.7,807" fill="none" stroke="#0000ff" stroke-width="5" stroke-linejoin="round"/>
<rect x="294.5" y="794.6" width="14.5" height="8" fill="#0000ff"/>
<polyline points="300.3,803 303.6,803 306.9,801.9 310.2,782.9 313.5,671.5 316.8,487.3 320.1,524.1 323.4,712.4 326.7,792.2 330,802.5 333.3,803" fill="none" stroke="#0000ff" stroke-width="4.6" stroke-linejoin="round"/>
<polyline points="330,808 333,812 339,812 342,807" fill="none" stroke="#0000ff" stroke-width="5" stroke-linejoin="round"/>
<rect x="383.6" y="794.6" width="18.4" height="8" fill="#0000ff"/>
<polyline points="395.6,803 398.9,802.6 402.2,794 405.5,724.2 408.8,549.7 412.1,503.3 415.4,672.5 418.7,782.1 422,801.8 425.3,803 428.6,803" fill="none" stroke="#0000ff" stroke-width="4.6" stroke-linejoin="round"/>
<polyline points="423,808 426,812 432,812 435,807" fill="none" stroke="#0000ff" stroke-width="5" stroke-linejoin="round"/>
<rect x="474.9" y="794.6" width="18.4" height="8" fill="#0000ff"/>
<polyline points="484.2,803 487.5,803 490.8,802.1 494.1,786.2 497.4,681.8 500.7,481.3 504,488.9 507.3,690.2 510.6,788.1 513.9,802.3 517.2,803" fill="none" stroke="#0000ff" stroke-width="4.6" stroke-linejoin="round"/>
<polyline points="514.3,808 517.3,812 523.3,812 526.3,807" fill="none" stroke="#0000ff" stroke-width="5" stroke-linejoin="round"/>
<rect x="564.6" y="794.6" width="18.6" height="8" fill="#0000ff"/>
<polyline points="574.2,803 577.5,803 580.8,802.1 584.1,785.9 587.4,682.9 590.7,492.3 594,507.3 597.3,699.5 600.6,789.7 603.9,802.4 607.2,803" fill="none" stroke="#0000ff" stroke-width="4.6" stroke-linejoin="round"/>
<polyline points="604.2,808 607.2,812 613.2,812 616.2,807" fill="none" stroke="#0000ff" stroke-width="5" stroke-linejoin="round"/>
<rect x="657.2" y="794.6" width="16.2" height="8" fill="#0000ff"/>
<polyline points="664.8,803 668.1,803 671.4,801.7 674.7,780.5 678,662.7 681.3,481.3 684.6,531.7 687.9,718.8 691.2,793.4 694.5,802.6 697.8,803" fill="none" stroke="#0000ff" stroke-width="4.6" stroke-linejoin="round"/>
<polyline points="694.4,808 697.4,812 703.4,812 706.4,807" fill="none" stroke="#0000ff" stroke-width="5" stroke-linejoin="round"/>
<rect x="748.3" y="794.6" width="18.2" height="8" fill="#0000ff"/>
<polyline points="760.3,803 763.6,802.5 766.9,792.5 770.2,715.6 773.5,535.7 776.8,502.3 780.1,678.6 783.4,784.1 786.7,801.9 790,803 793.3,803" fill="none" stroke="#0000ff" stroke-width="4.6" stroke-linejoin="round"/>
<polyline points="787.5,808 790.5,812 796.5,812 799.5,807" fill="none" stroke="#0000ff" stroke-width="5" stroke-linejoin="round"/>
<rect x="839.1" y="794.6" width="17.3" height="8" fill="#0000ff"/>
<polyline points="847.5,803 850.8,803 854.1,802 857.4,784.9 860.7,680.4 864,497.3 867.3,522.5 870.6,708.3 873.9,791.2 877.2,802.5 880.5,803" fill="none" stroke="#0000ff" stroke-width="4.6" stroke-linejoin="round"/>
<polyline points="877.4,808 880.4,812 886.4,812 889.4,807" fill="none" stroke="#0000ff" stroke-width="5" stroke-linejoin="round"/>
<rect x="930" y="794.6" width="17.6" height="8" fill="#0000ff"/>
<polyline points="941.4,803 944.7,802.5 948,791.9 951.3,711.2 954.6,524.5 957.9,492.3 961.2,675.5 964.5,783.7 967.8,801.9 971.1,803 974.4,803" fill="none" stroke="#0000ff" stroke-width="4.6" stroke-linejoin="round"/>
<polyline points="968.6,808 971.6,812 977.6,812 980.6,807" fill="none" stroke="#0000ff" stroke-width="5" stroke-linejoin="round"/>
<rect x="1021" y="794.6" width="18.2" height="8" fill="#0000ff"/>
<polyline points="1030.1,803 1033.4,803 1036.7,802.2 1040,787 1043.3,687.8 1046.6,497.3 1049.9,504.5 1053.2,695.8 1056.5,788.8 1059.8,802.3 1063.1,803" fill="none" stroke="#0000ff" stroke-width="4.6" stroke-linejoin="round"/>
<polyline points="1060.2,808 1063.2,812 1069.2,812 1072.2,807" fill="none" stroke="#0000ff" stroke-width="5" stroke-linejoin="round"/>
<rect x="1111.7" y="794.6" width="18.1" height="8" fill="#0000ff"/>
<polyline points="1123.8,803 1127.1,802.4 1130.4,789.7 1133.7,699.7 1137,507.6 1140.3,492.3 1143.6,682.8 1146.9,785.9 1150.2,802.1 1153.5,803 1156.8,803" fill="none" stroke="#0000ff" stroke-width="4.6" stroke-linejoin="round"/>
<polyline points="1150.8,808 1153.8,812 1159.8,812 1162.8,807" fill="none" stroke="#0000ff" stroke-width="5" stroke-linejoin="round"/>
<rect x="1203" y="794.6" width="18.5" height="8" fill="#0000ff"/>
<polyline points="1215.5,803 1218.8,802.4 1222.1,789.7 1225.4,700.9 1228.7,514.5 1232,503.3 1235.3,688.5 1238.6,786.9 1241.9,802.2 1245.2,803 1248.5,803" fill="none" stroke="#0000ff" stroke-width="4.6" stroke-linejoin="round"/>
<polyline points="1242.5,808 1245.5,812 1251.5,812 1254.5,807" fill="none" stroke="#0000ff" stroke-width="5" stroke-linejoin="round"/>
</g>
<rect x="151.2" y="27.6" width="1093.6" height="811" fill="none" stroke="#000" stroke-width="3.2"/>
<line x1="151.2" y1="806.4" x2="167.2" y2="806.4" stroke="#000" stroke-width="3"/>
<line x1="151.2" y1="728.6" x2="161.2" y2="728.6" stroke="#000" stroke-width="3"/>
<line x1="151.2" y1="650.8" x2="167.2" y2="650.8" stroke="#000" stroke-width="3"/>
<line x1="151.2" y1="572.9" x2="161.2" y2="572.9" stroke="#000" stroke-width="3"/>
<line x1="151.2" y1="495.1" x2="167.2" y2="495.1" stroke="#000" stroke-width="3"/>
<line x1="151.2" y1="417.3" x2="161.2" y2="417.3" stroke="#000" stroke-width="3"/>
<line x1="151.2" y1="339.4" x2="167.2" y2="339.4" stroke="#000" stroke-width="3"/>
<line x1="151.2" y1="261.6" x2="161.2" y2="261.6" stroke="#000" stroke-width="3"/>
<line x1="151.2" y1="183.8" x2="167.2" y2="183.8" stroke="#000" stroke-width="3"/>
<line x1="151.2" y1="106" x2="161.2" y2="106" stroke="#000" stroke-width="3"/>
<text x="71.2" y="818.2" font-size="44.7" fill="#000" textLength="62.45" lengthAdjust="spacingAndGlyphs">0.0</text>
<text x="71.3" y="662.5" font-size="44.7" fill="#000" textLength="62.45" lengthAdjust="spacingAndGlyphs">0.5</text>
<text x="71.2" y="506.9" font-size="44.7" fill="#000" textLength="62.45" lengthAdjust="spacingAndGlyphs">1.0</text>
<text x="71.3" y="351.2" font-size="44.7" fill="#000" textLength="62.45" lengthAdjust="spacingAndGlyphs">1.5</text>
<text x="71.2" y="195.6" font-size="44.7" fill="#000" textLength="62.45" lengthAdjust="spacingAndGlyphs">2.0</text>
<text x="71.3" y="38.7" font-size="44.7" fill="#000" textLength="62.45" lengthAdjust="spacingAndGlyphs">2.5</text>
<line x1="187.9" y1="838.6" x2="187.9" y2="823.6" stroke="#000" stroke-width="3"/>
<line x1="315.4" y1="838.6" x2="315.4" y2="828.6" stroke="#000" stroke-width="3"/>
<line x1="443" y1="838.6" x2="443" y2="823.6" stroke="#000" stroke-width="3"/>
<line x1="570.5" y1="838.6" x2="570.5" y2="828.6" stroke="#000" stroke-width="3"/>
<line x1="698.1" y1="838.6" x2="698.1" y2="823.6" stroke="#000" stroke-width="3"/>
<line x1="825.7" y1="838.6" x2="825.7" y2="828.6" stroke="#000" stroke-width="3"/>
<line x1="953.2" y1="838.6" x2="953.2" y2="823.6" stroke="#000" stroke-width="3"/>
<line x1="1080.8" y1="838.6" x2="1080.8" y2="828.6" stroke="#000" stroke-width="3"/>
<line x1="1208.3" y1="838.6" x2="1208.3" y2="823.6" stroke="#000" stroke-width="3"/>
<text x="153.3" y="890.6" font-size="45.5" fill="#000" textLength="65.76" lengthAdjust="spacingAndGlyphs">-70</text>
<text x="408.4" y="890.6" font-size="45.5" fill="#000" textLength="65.76" lengthAdjust="spacingAndGlyphs">-35</text>
<text x="683.8" y="890.6" font-size="45.5" fill="#000" textLength="25.30" lengthAdjust="spacingAndGlyphs">0</text>
<text x="926.4" y="890.6" font-size="45.5" fill="#000" textLength="50.61" lengthAdjust="spacingAndGlyphs">35</text>
<text x="1181.1" y="890.6" font-size="45.5" fill="#000" textLength="50.61" lengthAdjust="spacingAndGlyphs">70</text>
<text x="54.5" y="599.1" font-size="59.6" fill="#000" textLength="320.59" lengthAdjust="spacingAndGlyphs" transform="rotate(-90 54.5 599.1)">Signal (a.u.)</text>
<text x="574.9" y="951.1" font-size="59" fill="#000" textLength="245.79" lengthAdjust="spacingAndGlyphs">Time (μs)</text>
<text x="1" y="42.4" font-size="55.6" fill="#7030a0" font-weight="bold" textLength="65.98" lengthAdjust="spacingAndGlyphs">(a)</text>
<line x1="195.6" y1="61.2" x2="300.6" y2="61.2" stroke="#000" stroke-width="5.2"/>
<text x="311.2" y="74.6" font-size="42.3" fill="#000" textLength="116.85" lengthAdjust="spacingAndGlyphs">Pump</text>
<line x1="584.6" y1="62.8" x2="690.6" y2="62.8" stroke="#ff0000" stroke-width="5.2"/>
<text x="699.5" y="76.4" font-size="42.3" fill="#000" textLength="114.27" lengthAdjust="spacingAndGlyphs">~3μm</text>
<line x1="925.6" y1="68" x2="1031.7" y2="68" stroke="#0000ff" stroke-width="5.2"/>
<text x="1041.5" y="81.4" font-size="42.3" fill="#000" textLength="114.27" lengthAdjust="spacingAndGlyphs">~2μm</text>
<line x1="611.3" y1="470.3" x2="700.5" y2="470.3" stroke="#8000ff" stroke-width="8" stroke-dasharray="11 20.4" stroke-linecap="round"/>
<line x1="700.5" y1="475.5" x2="700.5" y2="834.7" stroke="#8000ff" stroke-width="8" stroke-dasharray="11 20.4" stroke-linecap="round"/>
<line x1="611.3" y1="834.7" x2="700.5" y2="834.7" stroke="#8000ff" stroke-width="8" stroke-dasharray="11 20.4" stroke-linecap="round"/>
<line x1="611.3" y1="489.2" x2="611.3" y2="834.7" stroke="#8000ff" stroke-width="8" stroke-dasharray="11 20.4" stroke-linecap="round"/>
<line x1="627" y1="462" x2="600" y2="446" stroke="#8000ff" stroke-width="7.5" stroke-linecap="round"/>
<polygon points="560.2,424.2 606.5,435.5 592.5,457" fill="#8000ff"/>
<rect x="272.8" y="105.8" width="386.1" height="279.8" fill="#fff" stroke="#000" stroke-width="2"/>
<g clip-path="url(#clipI1)">
<polyline points="272.8,365 272.8,367.2 274.8,364.8 276.8,365.3 278.8,365.2 280.8,366.6 282.8,367.4 284.8,365.1 286.8,365.5 288.8,367 290.8,365.9 292.8,365.1 294.8,365.9 296.8,364.5 298.8,366.9" fill="none" stroke="#000" stroke-width="4" stroke-linejoin="round"/>
<line x1="300.4" y1="367" x2="300.4" y2="200" stroke="#000" stroke-width="4.5"/>
<polygon points="302,192.6 304.5,193.9 307,194.9 309.5,194.1 312,195 314.5,195.1 317,194.8 319.5,194.4 322,196.2 324.5,196.5 327,196.1 329.5,198.2 332,198.7 334.5,197.7 337,199.3 339.5,199.3 342,199.3 344.5,200.1 347,200.1 349.5,200.8 352,201.7 354.5,201.2 357,201.1 359.5,200.8 362,202.4 364.5,202.7 367,203.4 369.5,202.7 372,202.9 374.5,204.1 377,205.2 379.5,204 382,203.8 384.5,204.8 387,205.7 389.5,206.2 392,205.6 394.5,206.2 397,207.4 399.5,206.7 402,208.6 404.5,208 407,208.9 409.5,210.3 412,210.4 414.5,210.1 417,210.1 419.5,209.4 422,211.3 424.5,210.3 427,212.5 429.5,212.2 432,213.5 434.5,212.1 437,213.4 439.5,212.6 442,214.4 444.5,213.7 447,214.5 449.5,215.5 452,215 454.5,214.5 457,216.8 459.5,217.3 462,216.9 464.5,216.4 467,217.4 469.5,217 472,218 474.5,218.9 477,218.6 477,228.2 474.5,229.4 472,228.7 469.5,228.1 467,226.4 464.5,226.4 462,227.5 459.5,225.4 457,227.5 454.5,224.7 452,226 449.5,224.5 447,226.3 444.5,224.6 442,224.4 439.5,223.6 437,224.4 434.5,222.6 432,223.7 429.5,222.9 427,222.5 424.5,222.1 422,221 419.5,222.6 417,220.7 414.5,220.6 412,220.9 409.5,219.4 407,220.7 404.5,220 402,218.8 399.5,219.2 397,219.9 394.5,219 392,217.3 389.5,218.5 387,217.4 384.5,218.7 382,217.4 379.5,216.6 377,215.7 374.5,215.2 372,216 369.5,216.1 367,216.2 364.5,215.1 362,216.1 359.5,215 357,214.9 354.5,214.6 352,214.3 349.5,213.1 347,213.9 344.5,211.8 342,213 339.5,211.3 337,210.7 334.5,210.6 332,212.4 329.5,212.1 327,210.3 324.5,209.3 322,210.5 319.5,210.8 317,208.3 314.5,208.5 312,209.1 309.5,209.6 307,207.4 304.5,207.8 302,207.2" fill="#000"/>
<polyline points="300.5,200 304,190 308,188.5 311,196 314,206" fill="none" stroke="#000" stroke-width="5" stroke-linejoin="round"/>
<line x1="477.5" y1="222" x2="477.5" y2="384" stroke="#000" stroke-width="4.5"/>
<polyline points="479,363.5 481.5,362.7 484,363.7 486.5,363.9 489,364.5 491.5,363.8 494,366.4 496.5,366 499,363.9 501.5,363.3 504,364.5 506.5,363 509,363.3 511.5,365.4 514,363 516.5,366.4 519,362.9 521.5,366.5 524,364.1 526.5,364.7 529,364.1 531.5,364.8 534,364.1 536.5,362.9 539,362.7 541.5,365.8 544,364.4 546.5,365.6 549,362.7 551.5,364.5 554,364.7 556.5,364 559,363.1 561.5,365.2 564,365.3 566.5,366 569,362.8 571.5,362.7 574,365 576.5,365 579,363.2 581.5,365.2 584,366 586.5,364.2 589,362.9 591.5,366.2 594,362.6 596.5,366 599,363.1 601.5,363.7 604,365.3 606.5,365.9 609,363.2 611.5,362.6 614,362.6 616.5,364.8 619,364.8 621.5,366.2 624,364.5 626.5,364.6 629,365.8 631.5,365.6 634,364.2 636.5,365.3 639,364.1 641.5,362.8 644,365.2 646.5,364.9 649,366.5 651.5,365.1 654,363.1 656.5,365.6" fill="none" stroke="#000" stroke-width="4" stroke-linejoin="round"/>
<polyline points="272.8,366.6 275.8,365.8 278.8,366.5 281.8,367.1 284.8,366.7 287.8,366.4 290.8,365.7 293.8,366.8 296.8,367.3 299.8,367.1 302.8,366 305.8,365.9 308.8,366.5 311.8,366.1 314.8,366.6 317.8,366.4 320.8,366.9 323.8,367.2 326.8,366.3 329.8,366.9 332.8,366.8 335.8,365.9 338.8,366.9 341.8,366.2 344.8,366.6 347.8,366.5 350.8,366.8 353.8,367.1 356.8,367.2 359.8,365.8 362.8,365.8 365.8,365.8 368.8,367.1 371.8,366.8 374.8,366.7 377.8,366.3 380.8,366.2 383.8,366.7 386.8,367.2 389.8,367 392.8,366.7 395.8,366.2 398.8,367.2 401.8,366.9 404.8,366.5 407.8,366 410.8,367.2 413.8,365.9 416.8,367.2 419.8,366 422.8,367 425.8,366.5 428.8,366.9 431.8,366.4 434.8,366.1 437.8,366.9 440.8,366.2 443.8,366.1 446.8,366.7 449.8,366.7 452.8,367 455.8,366.7 458.8,367.1 461.8,366.9 464.8,365.7 467.8,365.9 470.8,367 473.8,366.6 476.8,367.3 479.8,366.1 482.8,366.3 485.8,366.3 488.8,366.9 491.8,366.1 494.8,366.4 497.8,366.8 500.8,366.2 503.8,366.1 506.8,366 509.8,367.2 512.8,366.9 515.8,367 518.8,366.2 521.8,365.9 524.8,367.1 527.8,367.3 530.8,365.9 533.8,367.3 536.8,367 539.8,366.6 542.8,366.9 545.8,366.5 548.8,366.6 551.8,366.6 554.8,366.5 557.8,366.3 560.8,367 563.8,366.9 566.8,367.3 569.8,366.2 572.8,365.8 575.8,366.3 578.8,366.8 581.8,367.2 584.8,366.6 587.8,365.7 590.8,366.3 593.8,366.6 596.8,366.6 599.8,366.3 602.8,365.8 605.8,366.3 608.8,366.5 611.8,366.1 614.8,367 617.8,366.2 620.8,366.5 623.8,366 626.8,366 629.8,365.8 632.8,367 635.8,366.2 638.8,366.6 641.8,366.3 644.8,366.9 647.8,367.1 650.8,366.1 653.8,367.2 656.8,366.5" fill="none" stroke="#ff0000" stroke-width="4" stroke-linejoin="round"/>
<polyline points="436,365.6 436.9,365.3 437.8,365 438.7,364.7 439.6,364.3 440.5,363.9 441.4,363.5 442.3,363 443.2,362.4 444.1,361.8 445,361.2 445.9,360.5 446.8,359.7 447.7,358.8 448.6,357.9 449.5,356.9 450.4,355.8 451.3,354.6 452.2,353.3 453.1,351.9 454,350.4 454.9,348.8 455.8,347.1 456.7,345.2 457.6,343.2 458.5,341 459.4,338.7 460.3,336.3 461.2,333.6 462.1,330.8 463,327.9 463.9,324.7 464.8,321.3 465.7,317.8 466.6,314.1 467.5,310.2 468.4,306 469.3,301.7 470.2,297.2 471.1,292.5 472,287.6 472.9,282.6 473.8,277.3 474.7,271.9 475.6,266.4 476.5,260.7 477.4,255 478.3,249.1 479.2,243.2 480.1,237.3 481,231.4 481.9,225.5 482.8,219.7 483.7,214.1 484.6,208.7 485.5,203.6 486.4,198.9 487.3,194.6 488.2,190.9 489.1,188.1 490,186.5 490.9,188.1 491.8,190.9 492.7,194.6 493.6,198.9 494.5,203.6 495.4,208.7 496.3,214.1 497.2,219.7 498.1,225.5 499,231.4 499.9,237.3 500.8,243.2 501.7,249.1 502.6,255 503.5,260.7 504.4,266.4 505.3,271.9 506.2,277.3 507.1,282.6 508,287.6 508.9,292.5 509.8,297.2 510.7,301.7 511.6,306 512.5,310.2 513.4,314.1 514.3,317.8 515.2,321.3 516.1,324.7 517,327.9 517.9,330.8 518.8,333.6 519.7,336.3 520.6,338.7 521.5,341 522.4,343.2 523.3,345.2 524.2,347.1 525.1,348.8 526,350.4 526.9,351.9 527.8,353.3 528.7,354.6 529.6,355.8 530.5,356.9 531.4,357.9 532.3,358.8 533.2,359.7 534.1,360.5 535,361.2 535.9,361.8 536.8,362.4 537.7,363 538.6,363.5 539.5,363.9 540.4,364.3 541.3,364.7 542.2,365 543.1,365.3 544,365.6" fill="none" stroke="#ff0000" stroke-width="5.6" stroke-linejoin="round"/>
<polyline points="272.8,369.9 658.9,369.9" fill="none" stroke="#0000ff" stroke-width="7.6" stroke-linejoin="round"/>
<polyline points="524.8,365.3 525.7,364.9 526.6,364.5 527.5,364.1 528.4,363.6 529.3,363 530.2,362.5 531.1,361.8 532,361.1 532.9,360.4 533.8,359.6 534.7,358.7 535.6,357.8 536.5,356.8 537.4,355.7 538.3,354.5 539.2,353.2 540.1,351.9 541,350.4 541.9,348.8 542.8,347.1 543.7,345.3 544.6,343.4 545.5,341.4 546.4,339.2 547.3,336.9 548.2,334.4 549.1,331.8 550,329 550.9,326.1 551.8,323 552.7,319.8 553.6,316.3 554.5,312.7 555.4,309 556.3,305 557.2,300.9 558.1,296.7 559,292.2 559.9,287.6 560.8,282.8 561.7,277.9 562.6,272.8 563.5,267.6 564.4,262.3 565.3,256.9 566.2,251.4 567.1,245.8 568,240.2 568.9,234.6 569.8,229 570.7,223.5 571.6,218.1 572.5,212.8 573.4,207.7 574.3,202.8 575.2,198.3 576.1,194.3 577,190.8 577.9,188 578.8,186.5 579.7,188 580.6,190.8 581.5,194.3 582.4,198.3 583.3,202.8 584.2,207.7 585.1,212.8 586,218.1 586.9,223.5 587.8,229 588.7,234.6 589.6,240.2 590.5,245.8 591.4,251.4 592.3,256.9 593.2,262.3 594.1,267.6 595,272.8 595.9,277.9 596.8,282.8 597.7,287.6 598.6,292.2 599.5,296.7 600.4,300.9 601.3,305 602.2,309 603.1,312.7 604,316.3 604.9,319.8 605.8,323 606.7,326.1 607.6,329 608.5,331.8 609.4,334.4 610.3,336.9 611.2,339.2 612.1,341.4 613,343.4 613.9,345.3 614.8,347.1 615.7,348.8 616.6,350.4 617.5,351.9 618.4,353.2 619.3,354.5 620.2,355.7 621.1,356.8 622,357.8 622.9,358.7 623.8,359.6 624.7,360.4 625.6,361.1 626.5,361.8 627.4,362.5 628.3,363 629.2,363.6 630.1,364.1 631,364.5 631.9,364.9 632.8,365.3" fill="none" stroke="#0000ff" stroke-width="5.6" stroke-linejoin="round"/>
</g>
<line x1="341.2" y1="385.6" x2="341.2" y2="380.6" stroke="#000" stroke-width="2"/>
<line x1="376.5" y1="385.6" x2="376.5" y2="382.6" stroke="#000" stroke-width="2"/>
<line x1="411.8" y1="385.6" x2="411.8" y2="380.6" stroke="#000" stroke-width="2"/>
<line x1="482.3" y1="385.6" x2="482.3" y2="380.6" stroke="#000" stroke-width="2"/>
<line x1="552.9" y1="385.6" x2="552.9" y2="380.6" stroke="#000" stroke-width="2"/>
<line x1="623.5" y1="385.6" x2="623.5" y2="380.6" stroke="#000" stroke-width="2"/>
<line x1="272.8" y1="324.2" x2="275.8" y2="324.2" stroke="#000" stroke-width="2"/>
<line x1="272.8" y1="280.5" x2="277.8" y2="280.5" stroke="#000" stroke-width="2"/>
<line x1="272.8" y1="236.8" x2="275.8" y2="236.8" stroke="#000" stroke-width="2"/>
<line x1="272.8" y1="193" x2="277.8" y2="193" stroke="#000" stroke-width="2"/>
<line x1="272.8" y1="149.2" x2="275.8" y2="149.2" stroke="#000" stroke-width="2"/>
<text x="259.3" y="419.2" font-size="36.8" fill="#000" textLength="20.67" lengthAdjust="spacingAndGlyphs">0</text>
<text x="329.8" y="419.2" font-size="36.8" fill="#000" textLength="20.67" lengthAdjust="spacingAndGlyphs">2</text>
<text x="400.5" y="419.2" font-size="36.8" fill="#000" textLength="20.67" lengthAdjust="spacingAndGlyphs">4</text>
<text x="470.9" y="419.2" font-size="36.8" fill="#000" textLength="20.67" lengthAdjust="spacingAndGlyphs">6</text>
<text x="541.6" y="419.2" font-size="36.8" fill="#000" textLength="20.67" lengthAdjust="spacingAndGlyphs">8</text>
<text x="601.1" y="419.2" font-size="36.8" fill="#000" textLength="41.34" lengthAdjust="spacingAndGlyphs">10</text>
<text x="214.1" y="377.4" font-size="36.2" fill="#000" textLength="49.57" lengthAdjust="spacingAndGlyphs">0.0</text>
<text x="214.2" y="289.9" font-size="36.2" fill="#000" textLength="49.57" lengthAdjust="spacingAndGlyphs">0.5</text>
<text x="214.1" y="202.4" font-size="36.2" fill="#000" textLength="49.57" lengthAdjust="spacingAndGlyphs">1.0</text>
<text x="214.2" y="114.9" font-size="36.2" fill="#000" textLength="49.57" lengthAdjust="spacingAndGlyphs">1.5</text>
<text x="199" y="338.5" font-size="34.6" fill="#000" textLength="198.86" lengthAdjust="spacingAndGlyphs" transform="rotate(-90 199 338.5)">Signal (a.u.)</text>
<text x="386.9" y="451.2" font-size="34.2" fill="#000" textLength="155.50" lengthAdjust="spacingAndGlyphs">Time (μs)</text>
<line x1="300.8" y1="145" x2="300.8" y2="204" stroke="#8000ff" stroke-width="3"/>
<line x1="445.6" y1="143" x2="445.6" y2="366" stroke="#8000ff" stroke-width="3"/>
<line x1="489.5" y1="141" x2="489.5" y2="184" stroke="#8000ff" stroke-width="3"/>
<line x1="578.5" y1="140" x2="578.5" y2="184" stroke="#8000ff" stroke-width="3"/>
<line x1="302" y1="160" x2="444" y2="160" stroke="#8000ff" stroke-width="3"/>
<polygon points="302.4,160 314.8,154 321.4,154 321.4,166 314.8,166" fill="#8000ff"/>
<polygon points="444.3,160 431.9,154 425.3,154 425.3,166 431.9,166" fill="#8000ff"/>
<line x1="491" y1="159" x2="577" y2="159" stroke="#8000ff" stroke-width="3"/>
<polygon points="491,159 503.4,153 510,153 510,165 503.4,165" fill="#8000ff"/>
<polygon points="577,159 564.6,153 558,153 558,165 564.6,165" fill="#8000ff"/>
<text x="327.3" y="140.2" font-size="35.5" fill="#8000ff" textLength="111.28" lengthAdjust="spacingAndGlyphs">4.17μs</text>
<text x="490.4" y="140.2" font-size="35.5" fill="#8000ff" textLength="89.64" lengthAdjust="spacingAndGlyphs">2.5μs</text>
<line x1="302" y1="281.6" x2="473" y2="281.6" stroke="#000" stroke-width="3"/>
<polygon points="302.4,281.6 314.8,275.6 321.4,275.6 321.4,287.6 314.8,287.6" fill="#000"/>
<polygon points="474,281.6 461.6,275.6 455,275.6 455,287.6 461.6,287.6" fill="#000"/>
<text x="369.9" y="308.8" font-size="32.5" fill="#000" textLength="56.85" lengthAdjust="spacingAndGlyphs">5μs</text>
<text x="429.8" y="263.2" font-size="32.5" fill="#000" textLength="127.81" lengthAdjust="spacingAndGlyphs">1.048μs</text>
<text x="521" y="340" font-size="32.5" fill="#000" textLength="127.81" lengthAdjust="spacingAndGlyphs">1.054μs</text>
<line x1="476" y1="281" x2="508" y2="281" stroke="#ff0000" stroke-width="3"/>
<path d="M484.5,281 Q493.5,271.5 502.5,281 Q493.5,290.5 484.5,281Z" fill="#ff0000"/>
<line x1="563" y1="281" x2="596" y2="281" stroke="#0000ff" stroke-width="3"/>
<path d="M573,281 Q581.5,271.5 590,281 Q581.5,290.5 573,281Z" fill="#0000ff"/>
<circle cx="666" cy="368.5" r="2.2" fill="none" stroke="#000" stroke-width="1.2"/>
<rect x="776.5" y="103.8" width="363.3" height="273.5" fill="#fff" stroke="#000" stroke-width="2"/>
<line x1="809.4" y1="124.1" x2="900.3" y2="196.5" stroke="#ff0000" stroke-width="5.5"/>
<line x1="904.9" y1="200.3" x2="1023.3" y2="297.3" stroke="#ff0000" stroke-width="5.5"/>
<line x1="1038.4" y1="305" x2="1108.7" y2="336.7" stroke="#ff0000" stroke-width="5.5"/>
<rect x="792.2" y="108.7" width="14" height="14.6" fill="#ff0000"/>
<rect x="895.6" y="191.1" width="14" height="14.6" fill="#ff0000"/>
<rect x="1018.6" y="291.9" width="14" height="14.6" fill="#ff0000"/>
<rect x="1109" y="332.7" width="14" height="14.6" fill="#ff0000"/>
<line x1="799.2" y1="158" x2="902.6" y2="201.4" stroke="#0000ff" stroke-width="5.5"/>
<line x1="902.6" y1="201.4" x2="1025.6" y2="267.4" stroke="#0000ff" stroke-width="5.5"/>
<line x1="1025.6" y1="267.4" x2="1116" y2="293.8" stroke="#0000ff" stroke-width="5.5"/>
<rect x="792.2" y="151.2" width="14" height="13.6" fill="#0000ff"/>
<rect x="895.6" y="194.6" width="14" height="13.6" fill="#0000ff"/>
<rect x="1018.6" y="260.6" width="14" height="13.6" fill="#0000ff"/>
<rect x="1109" y="287" width="14" height="13.6" fill="#0000ff"/>
<line x1="898" y1="236.8" x2="944" y2="236.8" stroke="#ff0000" stroke-width="3"/>
<polygon points="891,236.8 906,231.5 906,242" fill="#ff0000"/>
<line x1="1032" y1="265.6" x2="1062" y2="265.6" stroke="#0000ff" stroke-width="3"/>
<polygon points="1074,265.6 1054,259.8 1058,265.6 1054,271.4" fill="#0000ff"/>
<line x1="827.7" y1="377.3" x2="827.7" y2="374.3" stroke="#000" stroke-width="2"/>
<line x1="879.6" y1="377.3" x2="879.6" y2="372.3" stroke="#000" stroke-width="2"/>
<line x1="931.5" y1="377.3" x2="931.5" y2="374.3" stroke="#000" stroke-width="2"/>
<line x1="983.4" y1="377.3" x2="983.4" y2="372.3" stroke="#000" stroke-width="2"/>
<line x1="1035.3" y1="377.3" x2="1035.3" y2="374.3" stroke="#000" stroke-width="2"/>
<line x1="1087.2" y1="377.3" x2="1087.2" y2="372.3" stroke="#000" stroke-width="2"/>
<line x1="776.5" y1="331.6" x2="779.5" y2="331.6" stroke="#000" stroke-width="2"/>
<line x1="776.5" y1="286" x2="781.5" y2="286" stroke="#000" stroke-width="2"/>
<line x1="776.5" y1="240.3" x2="779.5" y2="240.3" stroke="#000" stroke-width="2"/>
<line x1="776.5" y1="194.7" x2="781.5" y2="194.7" stroke="#000" stroke-width="2"/>
<line x1="776.5" y1="149.1" x2="779.5" y2="149.1" stroke="#000" stroke-width="2"/>
<line x1="1139.8" y1="349.9" x2="1136.8" y2="349.9" stroke="#000" stroke-width="2"/>
<line x1="1139.8" y1="322.5" x2="1134.8" y2="322.5" stroke="#000" stroke-width="2"/>
<line x1="1139.8" y1="295.1" x2="1136.8" y2="295.1" stroke="#000" stroke-width="2"/>
<line x1="1139.8" y1="267.7" x2="1134.8" y2="267.7" stroke="#000" stroke-width="2"/>
<line x1="1139.8" y1="240.4" x2="1136.8" y2="240.4" stroke="#000" stroke-width="2"/>
<line x1="1139.8" y1="213" x2="1134.8" y2="213" stroke="#000" stroke-width="2"/>
<line x1="1139.8" y1="185.6" x2="1136.8" y2="185.6" stroke="#000" stroke-width="2"/>
<line x1="1139.8" y1="158.2" x2="1134.8" y2="158.2" stroke="#000" stroke-width="2"/>
<line x1="1139.8" y1="130.8" x2="1136.8" y2="130.8" stroke="#000" stroke-width="2"/>
<text x="750.9" y="410" font-size="35.8" fill="#000" textLength="50.26" lengthAdjust="spacingAndGlyphs">3.5</text>
<text x="854.8" y="410" font-size="35.8" fill="#000" textLength="50.26" lengthAdjust="spacingAndGlyphs">3.6</text>
<text x="958.7" y="410" font-size="35.8" fill="#000" textLength="50.26" lengthAdjust="spacingAndGlyphs">3.7</text>
<text x="1062.4" y="410" font-size="35.8" fill="#000" textLength="50.26" lengthAdjust="spacingAndGlyphs">3.8</text>
<text x="722.5" y="386.3" font-size="35.8" fill="#000" textLength="47.03" lengthAdjust="spacingAndGlyphs">3.6</text>
<text x="722.4" y="295" font-size="35.8" fill="#000" textLength="47.03" lengthAdjust="spacingAndGlyphs">3.8</text>
<text x="722.3" y="203.7" font-size="35.8" fill="#000" textLength="47.03" lengthAdjust="spacingAndGlyphs">4.0</text>
<text x="722.7" y="112.4" font-size="35.8" fill="#000" textLength="47.03" lengthAdjust="spacingAndGlyphs">4.2</text>
<text x="1145" y="387.1" font-size="35.8" fill="#000" textLength="47.78" lengthAdjust="spacingAndGlyphs">2.1</text>
<text x="1145" y="332.3" font-size="35.8" fill="#000" textLength="47.78" lengthAdjust="spacingAndGlyphs">2.2</text>
<text x="1145" y="277.5" font-size="35.8" fill="#000" textLength="47.78" lengthAdjust="spacingAndGlyphs">2.3</text>
<text x="1145" y="222.8" font-size="35.8" fill="#000" textLength="47.78" lengthAdjust="spacingAndGlyphs">2.4</text>
<text x="1145" y="168" font-size="35.8" fill="#000" textLength="47.78" lengthAdjust="spacingAndGlyphs">2.5</text>
<text x="1145" y="113.2" font-size="35.8" fill="#000" textLength="47.78" lengthAdjust="spacingAndGlyphs">2.6</text>
<text x="709" y="373.5" font-size="34.6" fill="#000" textLength="270.97" lengthAdjust="spacingAndGlyphs" transform="rotate(-90 709 373.5)">Build-up time (μs)</text>
<text x="1228.8" y="357.1" font-size="34.6" fill="#000" textLength="237.71" lengthAdjust="spacingAndGlyphs" transform="rotate(-90 1228.8 357.1)">Time delay (μs)</text>
<text x="708.4" y="440.7" font-size="34.2" fill="#000" textLength="498.65" lengthAdjust="spacingAndGlyphs">Launched total pump power (W)</text>
<path d="M687.5,990.5 H151.3 V1802 H687.5 M707.5,990.5 H1244.7 V1802 H707.5" fill="none" stroke="#000" stroke-width="3.2"/>
<line x1="677.9" y1="1006.6" x2="698.5" y2="974" stroke="#000" stroke-width="3.2" stroke-linecap="round"/>
<line x1="697.1" y1="1006.6" x2="717.3" y2="974" stroke="#000" stroke-width="3.2" stroke-linecap="round"/>
<line x1="678.4" y1="1817.8" x2="698" y2="1786.1" stroke="#000" stroke-width="3.2" stroke-linecap="round"/>
<line x1="697.6" y1="1817.8" x2="717.3" y2="1786.1" stroke="#000" stroke-width="3.2" stroke-linecap="round"/>
<line x1="151.3" y1="1771" x2="167.3" y2="1771" stroke="#000" stroke-width="3"/>
<line x1="151.3" y1="1693" x2="161.3" y2="1693" stroke="#000" stroke-width="3"/>
<line x1="151.3" y1="1615" x2="167.3" y2="1615" stroke="#000" stroke-width="3"/>
<line x1="151.3" y1="1537" x2="161.3" y2="1537" stroke="#000" stroke-width="3"/>
<line x1="151.3" y1="1459" x2="167.3" y2="1459" stroke="#000" stroke-width="3"/>
<line x1="151.3" y1="1381" x2="161.3" y2="1381" stroke="#000" stroke-width="3"/>
<line x1="151.3" y1="1303" x2="167.3" y2="1303" stroke="#000" stroke-width="3"/>
<line x1="151.3" y1="1225" x2="161.3" y2="1225" stroke="#000" stroke-width="3"/>
<line x1="151.3" y1="1147" x2="167.3" y2="1147" stroke="#000" stroke-width="3"/>
<line x1="151.3" y1="1069" x2="161.3" y2="1069" stroke="#000" stroke-width="3"/>
<text x="69.9" y="1783" font-size="44.7" fill="#000" textLength="62.14" lengthAdjust="spacingAndGlyphs">0.0</text>
<text x="70" y="1627" font-size="44.7" fill="#000" textLength="62.14" lengthAdjust="spacingAndGlyphs">0.5</text>
<text x="69.9" y="1471" font-size="44.7" fill="#000" textLength="62.14" lengthAdjust="spacingAndGlyphs">1.0</text>
<text x="70" y="1315" font-size="44.7" fill="#000" textLength="62.14" lengthAdjust="spacingAndGlyphs">1.5</text>
<text x="69.9" y="1159" font-size="44.7" fill="#000" textLength="62.14" lengthAdjust="spacingAndGlyphs">2.0</text>
<text x="70" y="1001.2" font-size="44.7" fill="#000" textLength="62.14" lengthAdjust="spacingAndGlyphs">2.5</text>
<line x1="285.4" y1="1802" x2="285.4" y2="1787" stroke="#000" stroke-width="3"/>
<line x1="419.5" y1="1802" x2="419.5" y2="1792" stroke="#000" stroke-width="3"/>
<line x1="553.6" y1="1802" x2="553.6" y2="1787" stroke="#000" stroke-width="3"/>
<line x1="706.3" y1="1802" x2="706.3" y2="1795" stroke="#000" stroke-width="3"/>
<line x1="841.1" y1="1802" x2="841.1" y2="1787" stroke="#000" stroke-width="3"/>
<line x1="975.9" y1="1802" x2="975.9" y2="1792" stroke="#000" stroke-width="3"/>
<line x1="1110.7" y1="1802" x2="1110.7" y2="1787" stroke="#000" stroke-width="3"/>
<text x="234.3" y="1853.6" font-size="45.5" fill="#000" textLength="99.70" lengthAdjust="spacingAndGlyphs">2060</text>
<text x="502.5" y="1853.6" font-size="45.5" fill="#000" textLength="99.70" lengthAdjust="spacingAndGlyphs">2080</text>
<text x="790" y="1853.6" font-size="45.5" fill="#000" textLength="99.70" lengthAdjust="spacingAndGlyphs">2920</text>
<text x="1059.6" y="1853.6" font-size="45.5" fill="#000" textLength="99.70" lengthAdjust="spacingAndGlyphs">2940</text>
<text x="52.8" y="1566.3" font-size="59.6" fill="#000" textLength="325.18" lengthAdjust="spacingAndGlyphs" transform="rotate(-90 52.8 1566.3)">Signal (a.u.)</text>
<text x="461.6" y="1921.7" font-size="60" fill="#000" textLength="451.54" lengthAdjust="spacingAndGlyphs">Wavelength (nm)</text>
<text x="-0.6" y="1000.4" font-size="55.6" fill="#7030a0" font-weight="bold" textLength="69.20" lengthAdjust="spacingAndGlyphs">(b)</text>
<polyline points="152,1771.5 200,1771.5 202,1770 343,1769.5 348.6,1766.6 358.2,1756.1 362,1753.3 366.8,1757 370.6,1759 374.4,1744.7 377.3,1718 379.2,1698.8 382,1666.4 384,1634 385.9,1601.4 387.8,1557.5 389.7,1519.3 390.7,1483 392.6,1457.2 395.4,1458.2 397.3,1488.8 398.3,1519.3 400.2,1549.9 401.2,1591.9 404,1620.5 405.9,1649.2 406.9,1695 409.8,1721.8 413.6,1739 416.4,1760 418.4,1769.5 687.5,1770" fill="none" stroke="#0000ff" stroke-width="7.8" stroke-linejoin="round"/>
<polygon points="389,1458 396.5,1458 399.5,1528 395,1530 393,1518 391,1530 386.5,1528" fill="#0000ff"/>
<polyline points="707,1772 840,1771.5 859.2,1768.4 868.8,1757.8 876.5,1746.3 880.3,1729 883.2,1706 889,1686.8 895.7,1694.5 898.6,1667.6 902.4,1633 906.2,1648.4 909.1,1681 913.9,1713.7 916.8,1725.2 919.7,1690.6 921.6,1673.3 928.3,1675.2 931.2,1688.7 936,1683 937.9,1656 939.8,1635 945.6,1623.4 947.5,1604.2 949.4,1583.1 950.4,1550.4 951.4,1517.8 953.3,1462.1 957.1,1460.2 960,1489 961.9,1527.4 962.9,1556.2 963.8,1598.4 964.8,1652.2 967.7,1690.6 970.6,1719.4 973.4,1731 978.2,1723.3 985.9,1715.6 988.8,1681 991.7,1663.7 995.5,1667.6 1001.3,1675.2 1005.1,1688.7 1009,1709.8 1013.8,1727.1 1016.7,1715.6 1021.4,1711.7 1026.3,1704 1029.1,1729 1032,1707.9 1037.8,1706 1041.6,1721.3 1045.4,1740.5 1049.3,1752 1055.1,1759.7 1060.8,1761.6 1068.5,1767.4 1074.2,1770.3 1244,1772" fill="none" stroke="#ff0000" stroke-width="7.8" stroke-linejoin="round"/>
<polygon points="949.5,1460 961,1458 964.3,1548 958.5,1549 955.5,1538 952.5,1549 946.2,1548" fill="#ff0000"/>
<text x="305.8" y="1455.7" font-size="42.5" fill="#0000ff" textLength="177.40" lengthAdjust="spacingAndGlyphs">2068 nm</text>
<text x="851.6" y="1454.6" font-size="42.5" fill="#ff0000" textLength="214.58" lengthAdjust="spacingAndGlyphs">2928.5 nm</text>
<rect x="266.5" y="1014" width="394.5" height="281" fill="#fff" stroke="#000" stroke-width="2"/>
<clipPath id="c266"><rect x="266.5" y="1014" width="394.5" height="281"/></clipPath>
<g clip-path="url(#c266)">
<polygon points="266.5,1259.3 267.8,1259.3 267.8,1265.2 269.1,1265.2 269.1,1266.7 271.7,1266.7 271.7,1267.2 273,1267.2 273,1266.4 275.6,1266.4 275.6,1262.6 276.9,1262.6 276.9,1273.4 278.2,1273.4 278.2,1252.9 279.5,1252.9 279.5,1250.8 282.1,1250.8 282.1,1261.9 283.4,1261.9 283.4,1252.5 286,1252.5 286,1259.8 287.3,1259.8 287.3,1260.1 288.6,1260.1 288.6,1242.2 289.9,1242.2 289.9,1245.2 292.5,1245.2 292.5,1248.3 293.8,1248.3 293.8,1253.1 295.1,1253.1 295.1,1271.4 297.7,1271.4 297.7,1263.5 299,1263.5 299,1258.4 301.6,1258.4 301.6,1254.7 302.9,1254.7 302.9,1262.1 304.2,1262.1 304.2,1253.8 305.5,1253.8 305.5,1266.8 306.8,1266.8 306.8,1270.3 308.1,1270.3 308.1,1272.8 309.4,1272.8 309.4,1269.8 310.7,1269.8 310.7,1271.4 312,1271.4 312,1265.8 313.3,1265.8 313.3,1260.9 314.6,1260.9 314.6,1259.2 315.9,1259.2 315.9,1262.4 317.2,1262.4 317.2,1261.1 318.5,1261.1 318.5,1264.6 319.8,1264.6 319.8,1259.9 321.1,1259.9 321.1,1258.2 322.4,1258.2 322.4,1248.8 323.7,1248.8 323.7,1252.8 326.3,1252.8 326.3,1257.6 327.6,1257.6 327.6,1258.2 328.9,1258.2 328.9,1259.5 330.2,1259.5 330.2,1257 331.5,1257 331.5,1253.2 332.8,1253.2 332.8,1249.8 334.1,1249.8 334.1,1266.3 336.7,1266.3 336.7,1266.7 339.3,1266.7 339.3,1266.6 340.6,1266.6 340.6,1265.4 341.9,1265.4 341.9,1261.8 343.2,1261.8 343.2,1267.5 344.5,1267.5 344.5,1273.1 347.1,1273.1 347.1,1267.2 348.4,1267.2 348.4,1260.3 349.7,1260.3 349.7,1267.4 351,1267.4 351,1254.9 352.3,1254.9 352.3,1256 353.6,1256 353.6,1261.6 354.9,1261.6 354.9,1245.4 357.5,1245.4 357.5,1262.3 358.8,1262.3 358.8,1261.6 361.4,1261.6 361.4,1260.1 364,1260.1 364,1256.8 365.3,1256.8 365.3,1253.3 366.6,1253.3 366.6,1261.9 369.2,1261.9 369.2,1261.3 371.8,1261.3 371.8,1262.4 374.4,1262.4 374.4,1266.8 377,1266.8 377,1260.8 379.6,1260.8 379.6,1257.1 382.2,1257.1 382.2,1263.3 384.8,1263.3 384.8,1269.1 386.1,1269.1 386.1,1260.6 388.7,1260.6 388.7,1258.2 390,1258.2 390,1259.5 391.3,1259.5 391.3,1263 392.6,1263 392.6,1267.6 393.9,1267.6 393.9,1265.3 395.2,1265.3 395.2,1263.9 396.5,1263.9 396.5,1253.8 399.1,1253.8 399.1,1252.5 400.4,1252.5 400.4,1275.3 403,1275.3 403,1272 404.3,1272 404.3,1270.6 405.6,1270.6 405.6,1261.4 408.2,1261.4 408.2,1258 409.5,1258 409.5,1263.2 412.1,1263.2 412.1,1274.4 413.4,1274.4 413.4,1262 414.7,1262 414.7,1266.4 416,1266.4 416,1236 417.3,1236 417.3,1264.7 418.6,1264.7 418.6,1265.5 421.2,1265.5 421.2,1261.5 423.8,1261.5 423.8,1257.5 425.1,1257.5 425.1,1269.6 426.4,1269.6 426.4,1268.6 429,1268.6 429,1247.3 431.6,1247.3 431.6,1250.9 432.9,1250.9 432.9,1249.3 434.2,1249.3 434.2,1260.3 435.5,1260.3 435.5,1263 436.8,1263 436.8,1246.6 438.1,1246.6 438.1,1261.7 439.4,1261.7 439.4,1255 440.7,1255 440.7,1265.8 442,1265.8 442,1250.6 443.3,1250.6 443.3,1253.7 444.6,1253.7 444.6,1257.4 445.9,1257.4 445.9,1252 448.5,1252 448.5,1256.1 449.8,1256.1 449.8,1267.5 452.4,1267.5 452.4,1253.9 455,1253.9 455,1264.7 456.3,1264.7 456.3,1267.3 458.9,1267.3 458.9,1274 460.2,1274 460.2,1275.2 461.5,1275.2 461.5,1274 464.1,1274 464.1,1270.5 466.7,1270.5 466.7,1271.2 469.3,1271.2 469.3,1266.7 470.6,1266.7 470.6,1271.3 473.2,1271.3 473.2,1264 475.8,1264 475.8,1265.4 478.4,1265.4 478.4,1264.5 481,1264.5 481,1267.6 482.3,1267.6 482.3,1266.4 483.6,1266.4 483.6,1271.7 486.2,1271.7 486.2,1267.5 488.8,1267.5 488.8,1255.9 491.4,1255.9 491.4,1253.2 492.7,1253.2 492.7,1254.6 494,1254.6 494,1259.3 495.3,1259.3 495.3,1266 497.9,1266 497.9,1252.9 499.2,1252.9 499.2,1256.3 500.5,1256.3 500.5,1252.6 501.8,1252.6 501.8,1256.2 503.1,1256.2 503.1,1254.9 504.4,1254.9 504.4,1267 507,1267 507,1278.6 508.3,1278.6 508.3,1273.5 509.6,1273.5 509.6,1268.5 510.9,1268.5 510.9,1263.6 513.5,1263.6 513.5,1258.6 516.1,1258.6 516.1,1254.4 518.7,1254.4 518.7,1264.8 520,1264.8 520,1267.5 521.3,1267.5 521.3,1266.2 522.6,1266.2 522.6,1255.5 523.9,1255.5 523.9,1257.3 525.2,1257.3 525.2,1246.9 526.5,1246.9 526.5,1239.5 527.8,1239.5 527.8,1250.1 529.1,1250.1 529.1,1260.5 530.4,1260.5 530.4,1258.8 531.7,1258.8 531.7,1255.1 534.3,1255.1 534.3,1253.8 535.6,1253.8 535.6,1254.2 536.9,1254.2 536.9,1262.5 539.5,1262.5 539.5,1259.4 540.8,1259.4 540.8,1264.6 543.4,1264.6 543.4,1234.7 546,1234.7 546,1247.5 547.3,1247.5 547.3,1242.3 548.6,1242.3 548.6,1246.3 549.9,1246.3 549.9,1235.4 551.2,1235.4 551.2,1253.8 552.5,1253.8 552.5,1268.8 553.8,1268.8 553.8,1261.2 555.1,1261.2 555.1,1247.7 557.7,1247.7 557.7,1249.5 560.3,1249.5 560.3,1255.2 562.9,1255.2 562.9,1258 565.5,1258 565.5,1260.2 566.8,1260.2 566.8,1252.2 569.4,1252.2 569.4,1252.3 570.7,1252.3 570.7,1251.9 572,1251.9 572,1252.1 573.3,1252.1 573.3,1251.4 574.6,1251.4 574.6,1242.9 575.9,1242.9 575.9,1257.8 577.2,1257.8 577.2,1260.3 578.5,1260.3 578.5,1252.9 581.1,1252.9 581.1,1260.1 582.4,1260.1 582.4,1259.5 583.7,1259.5 583.7,1258.9 586.3,1258.9 586.3,1257 587.6,1257 587.6,1269.7 588.9,1269.7 588.9,1274.5 591.5,1274.5 591.5,1260.9 592.8,1260.9 592.8,1253.9 594.1,1253.9 594.1,1258.5 595.4,1258.5 595.4,1268.8 596.7,1268.8 596.7,1244.4 599.3,1244.4 599.3,1264.1 600.6,1264.1 600.6,1253.6 601.9,1253.6 601.9,1257.5 603.2,1257.5 603.2,1251.7 604.5,1251.7 604.5,1243.9 607.1,1243.9 607.1,1255.9 609.7,1255.9 609.7,1270.6 611,1270.6 611,1273.1 613.6,1273.1 613.6,1263.9 614.9,1263.9 614.9,1261.3 616.2,1261.3 616.2,1259.8 617.5,1259.8 617.5,1241.2 618.8,1241.2 618.8,1259.1 621.4,1259.1 621.4,1258.2 622.7,1258.2 622.7,1268.6 625.3,1268.6 625.3,1274.6 627.9,1274.6 627.9,1277.6 629.2,1277.6 629.2,1268.1 631.8,1268.1 631.8,1255.8 634.4,1255.8 634.4,1255.2 635.7,1255.2 635.7,1250.1 637,1250.1 637,1258.1 639.6,1258.1 639.6,1255.9 640.9,1255.9 640.9,1249.2 643.5,1249.2 643.5,1259 644.8,1259 644.8,1258.8 647.4,1258.8 647.4,1248.6 648.7,1248.6 648.7,1262.5 651.3,1262.5 651.3,1269.1 652.6,1269.1 652.6,1244.1 653.9,1244.1 653.9,1257.7 655.2,1257.7 655.2,1246.3 656.5,1246.3 656.5,1259.1 657.8,1259.1 657.8,1249.7 659.1,1249.7 659.1,1252.9 660.4,1252.9 660.4,1254.4 661.7,1254.4 661.7,1258 664.3,1258 664.3,1283.2 661.7,1283.2 661.7,1297 660.4,1297 660.4,1285.5 659.1,1285.5 659.1,1285.5 657.8,1285.5 657.8,1285.5 656.5,1285.5 656.5,1285.5 655.2,1285.5 655.2,1285.5 653.9,1285.5 653.9,1285.5 652.6,1285.5 652.6,1285.5 651.3,1285.5 651.3,1297 648.7,1297 648.7,1297 647.4,1297 647.4,1297 644.8,1297 644.8,1297 643.5,1297 643.5,1297 640.9,1297 640.9,1297 639.6,1297 639.6,1297 637,1297 637,1297 635.7,1297 635.7,1297 634.4,1297 634.4,1286.9 631.8,1286.9 631.8,1286.9 629.2,1286.9 629.2,1297 627.9,1297 627.9,1297 625.3,1297 625.3,1297 622.7,1297 622.7,1297 621.4,1297 621.4,1297 618.8,1297 618.8,1297 617.5,1297 617.5,1297 616.2,1297 616.2,1297 614.9,1297 614.9,1297 613.6,1297 613.6,1282.6 611,1282.6 611,1282.6 609.7,1282.6 609.7,1282.6 607.1,1282.6 607.1,1282.6 604.5,1282.6 604.5,1297 603.2,1297 603.2,1297 601.9,1297 601.9,1279.7 600.6,1279.7 600.6,1279.7 599.3,1279.7 599.3,1297 596.7,1297 596.7,1297 595.4,1297 595.4,1297 594.1,1297 594.1,1297 592.8,1297 592.8,1297 591.5,1297 591.5,1297 588.9,1297 588.9,1297 587.6,1297 587.6,1297 586.3,1297 586.3,1297 583.7,1297 583.7,1297 582.4,1297 582.4,1279.4 581.1,1279.4 581.1,1279.4 578.5,1279.4 578.5,1279.4 577.2,1279.4 577.2,1279.4 575.9,1279.4 575.9,1279.4 574.6,1279.4 574.6,1297 573.3,1297 573.3,1297 572,1297 572,1297 570.7,1297 570.7,1297 569.4,1297 569.4,1297 566.8,1297 566.8,1297 565.5,1297 565.5,1297 562.9,1297 562.9,1297 560.3,1297 560.3,1297 557.7,1297 557.7,1297 555.1,1297 555.1,1297 553.8,1297 553.8,1297 552.5,1297 552.5,1297 551.2,1297 551.2,1297 549.9,1297 549.9,1297 548.6,1297 548.6,1297 547.3,1297 547.3,1297 546,1297 546,1297 543.4,1297 543.4,1297 540.8,1297 540.8,1297 539.5,1297 539.5,1285.8 536.9,1285.8 536.9,1285.8 535.6,1285.8 535.6,1285.8 534.3,1285.8 534.3,1285.8 531.7,1285.8 531.7,1285.8 530.4,1285.8 530.4,1297 529.1,1297 529.1,1289.7 527.8,1289.7 527.8,1289.7 526.5,1289.7 526.5,1289.7 525.2,1289.7 525.2,1289.7 523.9,1289.7 523.9,1289.7 522.6,1289.7 522.6,1289.7 521.3,1289.7 521.3,1297 520,1297 520,1297 518.7,1297 518.7,1297 516.1,1297 516.1,1297 513.5,1297 513.5,1281.2 510.9,1281.2 510.9,1281.2 509.6,1281.2 509.6,1281.2 508.3,1281.2 508.3,1297 507,1297 507,1297 504.4,1297 504.4,1297 503.1,1297 503.1,1297 501.8,1297 501.8,1297 500.5,1297 500.5,1284.3 499.2,1284.3 499.2,1284.3 497.9,1284.3 497.9,1284.3 495.3,1284.3 495.3,1284.3 494,1284.3 494,1284.3 492.7,1284.3 492.7,1284.3 491.4,1284.3 491.4,1285.4 488.8,1285.4 488.8,1285.4 486.2,1285.4 486.2,1285.4 483.6,1285.4 483.6,1285.4 482.3,1285.4 482.3,1297 481,1297 481,1282 478.4,1282 478.4,1282 475.8,1282 475.8,1297 473.2,1297 473.2,1297 470.6,1297 470.6,1297 469.3,1297 469.3,1297 466.7,1297 466.7,1297 464.1,1297 464.1,1297 461.5,1297 461.5,1297 460.2,1297 460.2,1297 458.9,1297 458.9,1297 456.3,1297 456.3,1297 455,1297 455,1297 452.4,1297 452.4,1297 449.8,1297 449.8,1297 448.5,1297 448.5,1297 445.9,1297 445.9,1297 444.6,1297 444.6,1297 443.3,1297 443.3,1297 442,1297 442,1297 440.7,1297 440.7,1297 439.4,1297 439.4,1297 438.1,1297 438.1,1297 436.8,1297 436.8,1297 435.5,1297 435.5,1297 434.2,1297 434.2,1279.2 432.9,1279.2 432.9,1279.2 431.6,1279.2 431.6,1279.2 429,1279.2 429,1297 426.4,1297 426.4,1297 425.1,1297 425.1,1297 423.8,1297 423.8,1297 421.2,1297 421.2,1297 418.6,1297 418.6,1297 417.3,1297 417.3,1297 416,1297 416,1297 414.7,1297 414.7,1297 413.4,1297 413.4,1289.2 412.1,1289.2 412.1,1289.2 409.5,1289.2 409.5,1289.2 408.2,1289.2 408.2,1297 405.6,1297 405.6,1297 404.3,1297 404.3,1297 403,1297 403,1297 400.4,1297 400.4,1297 399.1,1297 399.1,1297 396.5,1297 396.5,1288.2 395.2,1288.2 395.2,1288.2 393.9,1288.2 393.9,1288.2 392.6,1288.2 392.6,1288.2 391.3,1288.2 391.3,1288.2 390,1288.2 390,1297 388.7,1297 388.7,1287.5 386.1,1287.5 386.1,1287.5 384.8,1287.5 384.8,1297 382.2,1297 382.2,1290.8 379.6,1290.8 379.6,1290.8 377,1290.8 377,1290.8 374.4,1290.8 374.4,1290.8 371.8,1290.8 371.8,1297 369.2,1297 369.2,1297 366.6,1297 366.6,1297 365.3,1297 365.3,1297 364,1297 364,1297 361.4,1297 361.4,1289.1 358.8,1289.1 358.8,1289.1 357.5,1289.1 357.5,1289.1 354.9,1289.1 354.9,1289.1 353.6,1289.1 353.6,1297 352.3,1297 352.3,1297 351,1297 351,1297 349.7,1297 349.7,1297 348.4,1297 348.4,1297 347.1,1297 347.1,1297 344.5,1297 344.5,1297 343.2,1297 343.2,1297 341.9,1297 341.9,1297 340.6,1297 340.6,1297 339.3,1297 339.3,1297 336.7,1297 336.7,1297 334.1,1297 334.1,1297 332.8,1297 332.8,1297 331.5,1297 331.5,1297 330.2,1297 330.2,1297 328.9,1297 328.9,1297 327.6,1297 327.6,1297 326.3,1297 326.3,1297 323.7,1297 323.7,1297 322.4,1297 322.4,1297 321.1,1297 321.1,1297 319.8,1297 319.8,1297 318.5,1297 318.5,1297 317.2,1297 317.2,1297 315.9,1297 315.9,1297 314.6,1297 314.6,1297 313.3,1297 313.3,1297 312,1297 312,1297 310.7,1297 310.7,1297 309.4,1297 309.4,1297 308.1,1297 308.1,1297 306.8,1297 306.8,1297 305.5,1297 305.5,1297 304.2,1297 304.2,1297 302.9,1297 302.9,1297 301.6,1297 301.6,1288.3 299,1288.3 299,1288.3 297.7,1288.3 297.7,1288.3 295.1,1288.3 295.1,1297 293.8,1297 293.8,1297 292.5,1297 292.5,1297 289.9,1297 289.9,1297 288.6,1297 288.6,1297 287.3,1297 287.3,1297 286,1297 286,1297 283.4,1297 283.4,1280.8 282.1,1280.8 282.1,1280.8 279.5,1280.8 279.5,1280.8 278.2,1280.8 278.2,1280.8 276.9,1280.8 276.9,1297 275.6,1297 275.6,1297 273,1297 273,1297 271.7,1297 271.7,1297 269.1,1297 269.1,1297 267.8,1297 267.8,1297 266.5,1297" fill="#0000ff"/>
<path d="M269.6,1295V1288.4 M275.6,1295V1288.6 M282,1295V1285.1 M290.7,1295V1279.1 M294,1295V1284.7 M301.6,1295V1280.7 M309.2,1295V1283.8 M316,1295V1287.3 M320.7,1295V1281.7 M329,1295V1279.8 M336,1295V1288 M343.6,1295V1282.4 M349.7,1295V1283.7 M354.8,1295V1284.8 M360.2,1295V1291.2 M365.2,1295V1287.8 M374.2,1295V1285.7 M379.4,1295V1288.8 M383.8,1295V1287.5 M387.6,1295V1291.9 M395.8,1295V1286.1 M401.5,1295V1284.6 M406.3,1295V1289.8 M409.7,1295V1288.1 M414.6,1295V1282.6 M420.9,1295V1279.8 M425.9,1295V1280 M432.4,1295V1291 M436.5,1295V1284.5 M445.4,1295V1287.4 M453.1,1295V1286.4 M461.3,1295V1291.1 M467.2,1295V1280.3 M471.8,1295V1288.7 M475,1295V1289.9 M479.6,1295V1282.8 M483.9,1295V1286.8 M488.1,1295V1284.2 M496.3,1295V1283.6 M500.4,1295V1282.5 M509.2,1295V1284.2 M512.7,1295V1281.5 M521,1295V1287.6 M524.8,1295V1289.6 M531,1295V1280.6 M537.8,1295V1280 M542.1,1295V1287.8 M549.6,1295V1283.6 M555,1295V1283.2 M560.1,1295V1291.3 M565.6,1295V1291.4 M572.3,1295V1287.7 M578.3,1295V1284.2 M582.8,1295V1286 M585.9,1295V1280 M592.3,1295V1279.2 M595.6,1295V1284 M603,1295V1287.7 M606.5,1295V1290 M610.4,1295V1282 M613.9,1295V1281.4 M619.5,1295V1285 M626,1295V1284.8 M632.9,1295V1284.2 M637.9,1295V1282.4 M642.5,1295V1282.8 M650,1295V1281.9 M654.9,1295V1282" stroke="#fff" stroke-width="1.2" fill="none"/>
<rect x="460.4" y="1089" width="3.4" height="206" fill="#0000ff"/>
<rect x="462.6" y="1066" width="4.2" height="229" fill="#0000ff"/>
</g>
<line x1="266.5" y1="1259.8" x2="269.5" y2="1259.8" stroke="#000" stroke-width="2"/>
<line x1="266.5" y1="1224.6" x2="271.5" y2="1224.6" stroke="#000" stroke-width="2"/>
<line x1="266.5" y1="1189.4" x2="269.5" y2="1189.4" stroke="#000" stroke-width="2"/>
<line x1="266.5" y1="1154.2" x2="271.5" y2="1154.2" stroke="#000" stroke-width="2"/>
<line x1="266.5" y1="1119" x2="269.5" y2="1119" stroke="#000" stroke-width="2"/>
<line x1="266.5" y1="1083.8" x2="271.5" y2="1083.8" stroke="#000" stroke-width="2"/>
<line x1="266.5" y1="1048.6" x2="269.5" y2="1048.6" stroke="#000" stroke-width="2"/>
<text x="204" y="1022.7" font-size="35.5" fill="#000" textLength="52.08" lengthAdjust="spacingAndGlyphs">-20</text>
<text x="204" y="1093.1" font-size="35.5" fill="#000" textLength="52.08" lengthAdjust="spacingAndGlyphs">-40</text>
<text x="204" y="1163.5" font-size="35.5" fill="#000" textLength="52.08" lengthAdjust="spacingAndGlyphs">-60</text>
<text x="204" y="1233.9" font-size="35.5" fill="#000" textLength="52.08" lengthAdjust="spacingAndGlyphs">-80</text>
<text x="184" y="1304.3" font-size="35.5" fill="#000" textLength="72.12" lengthAdjust="spacingAndGlyphs">-100</text>
<text x="243.8" y="1329.1" font-size="36.8" fill="#000" textLength="40.73" lengthAdjust="spacingAndGlyphs">65</text>
<text x="309.6" y="1329.1" font-size="36.8" fill="#000" textLength="40.73" lengthAdjust="spacingAndGlyphs">70</text>
<text x="375.6" y="1329.1" font-size="36.8" fill="#000" textLength="40.73" lengthAdjust="spacingAndGlyphs">75</text>
<text x="441.6" y="1329.1" font-size="36.8" fill="#000" textLength="40.73" lengthAdjust="spacingAndGlyphs">80</text>
<text x="507.5" y="1329.1" font-size="36.8" fill="#000" textLength="40.73" lengthAdjust="spacingAndGlyphs">85</text>
<text x="573.3" y="1329.1" font-size="36.8" fill="#000" textLength="40.73" lengthAdjust="spacingAndGlyphs">90</text>
<text x="639.2" y="1329.1" font-size="36.8" fill="#000" textLength="40.73" lengthAdjust="spacingAndGlyphs">95</text>
<text x="322.4" y="1361.4" font-size="35.5" fill="#000" textLength="278.32" lengthAdjust="spacingAndGlyphs">Frequency (kHz)</text>
<text x="185.4" y="1290.7" font-size="36" fill="#000" textLength="253.82" lengthAdjust="spacingAndGlyphs" transform="rotate(-90 185.4 1290.7)">Intensity (dBm)</text>
<line x1="462.6" y1="1065.2" x2="511.5" y2="1065.2" stroke="#000" stroke-width="4"/>
<line x1="466.8" y1="1261" x2="514.6" y2="1261" stroke="#000" stroke-width="4"/>
<line x1="489" y1="1075.2" x2="489" y2="1251" stroke="#000" stroke-width="5"/>
<polygon points="489,1066.7 498.5,1095.2 479.5,1095.2" fill="#000"/>
<polygon points="489,1259.5 498.5,1231 479.5,1231" fill="#000"/>
<text x="498.5" y="1176.9" font-size="35.5" fill="#000" textLength="110.46" lengthAdjust="spacingAndGlyphs">&gt;55dB</text>
<rect x="829.5" y="1011.8" width="392" height="283.7" fill="#fff" stroke="#000" stroke-width="2"/>
<clipPath id="c829"><rect x="829.5" y="1011.8" width="392" height="283.7"/></clipPath>
<g clip-path="url(#c829)">
<polygon points="829.5,1258.8 830.8,1258.8 830.8,1263.2 833.4,1263.2 833.4,1263.6 834.7,1263.6 834.7,1266 836,1266 836,1267.7 838.6,1267.7 838.6,1268.2 839.9,1268.2 839.9,1267.1 842.5,1267.1 842.5,1264.7 845.1,1264.7 845.1,1268.7 846.4,1268.7 846.4,1259.5 847.7,1259.5 847.7,1265 849,1265 849,1257.1 851.6,1257.1 851.6,1258.4 854.2,1258.4 854.2,1256.7 855.5,1256.7 855.5,1260.9 856.8,1260.9 856.8,1259.6 858.1,1259.6 858.1,1254.4 860.7,1254.4 860.7,1266.3 862,1266.3 862,1263.7 863.3,1263.7 863.3,1265.6 864.6,1265.6 864.6,1259.8 865.9,1259.8 865.9,1246.3 867.2,1246.3 867.2,1264.1 868.5,1264.1 868.5,1254.2 869.8,1254.2 869.8,1261.3 871.1,1261.3 871.1,1258.1 872.4,1258.1 872.4,1254.5 873.7,1254.5 873.7,1252 875,1252 875,1258.8 877.6,1258.8 877.6,1255.7 878.9,1255.7 878.9,1257 880.2,1257 880.2,1262.2 881.5,1262.2 881.5,1255.1 882.8,1255.1 882.8,1258.6 885.4,1258.6 885.4,1262.1 886.7,1262.1 886.7,1253.2 888,1253.2 888,1251.7 889.3,1251.7 889.3,1255.1 890.6,1255.1 890.6,1256.6 891.9,1256.6 891.9,1260.9 894.5,1260.9 894.5,1266.7 897.1,1266.7 897.1,1268.1 898.4,1268.1 898.4,1264.2 899.7,1264.2 899.7,1259.2 902.3,1259.2 902.3,1263.7 904.9,1263.7 904.9,1256.1 906.2,1256.1 906.2,1258.8 908.8,1258.8 908.8,1261.3 911.4,1261.3 911.4,1265 914,1265 914,1269.4 915.3,1269.4 915.3,1267.4 917.9,1267.4 917.9,1263.2 920.5,1263.2 920.5,1265.7 923.1,1265.7 923.1,1267 924.4,1267 924.4,1260.6 925.7,1260.6 925.7,1267.4 927,1267.4 927,1264.7 928.3,1264.7 928.3,1268.7 929.6,1268.7 929.6,1267.4 932.2,1267.4 932.2,1270.4 933.5,1270.4 933.5,1273.3 934.8,1273.3 934.8,1267.9 936.1,1267.9 936.1,1263.6 937.4,1263.6 937.4,1260 940,1260 940,1258.9 942.6,1258.9 942.6,1260.1 943.9,1260.1 943.9,1263.2 946.5,1263.2 946.5,1258.3 949.1,1258.3 949.1,1261 950.4,1261 950.4,1262.1 951.7,1262.1 951.7,1258.9 953,1258.9 953,1266.3 954.3,1266.3 954.3,1261.9 955.6,1261.9 955.6,1262.9 958.2,1262.9 958.2,1266 959.5,1266 959.5,1272.6 962.1,1272.6 962.1,1273.3 963.4,1273.3 963.4,1263.7 966,1263.7 966,1260.5 968.6,1260.5 968.6,1256.1 969.9,1256.1 969.9,1257.6 971.2,1257.6 971.2,1255.8 972.5,1255.8 972.5,1256.6 973.8,1256.6 973.8,1255.9 975.1,1255.9 975.1,1259.7 976.4,1259.7 976.4,1261.4 977.7,1261.4 977.7,1262.1 980.3,1262.1 980.3,1266.3 982.9,1266.3 982.9,1258.4 984.2,1258.4 984.2,1258.4 986.8,1258.4 986.8,1261.4 989.4,1261.4 989.4,1262.1 990.7,1262.1 990.7,1259 992,1259 992,1261.3 993.3,1261.3 993.3,1259 994.6,1259 994.6,1258.8 997.2,1258.8 997.2,1254.7 998.5,1254.7 998.5,1259.8 1001.1,1259.8 1001.1,1257.2 1003.7,1257.2 1003.7,1245.4 1005,1245.4 1005,1258.1 1007.6,1258.1 1007.6,1264.9 1008.9,1264.9 1008.9,1260.6 1011.5,1260.6 1011.5,1256.1 1012.8,1256.1 1012.8,1252.4 1015.4,1252.4 1015.4,1254.6 1018,1254.6 1018,1255 1019.3,1255 1019.3,1255.4 1020.6,1255.4 1020.6,1259.3 1021.9,1259.3 1021.9,1262.1 1024.5,1262.1 1024.5,1264.8 1027.1,1264.8 1027.1,1261.8 1029.7,1261.8 1029.7,1258.5 1032.3,1258.5 1032.3,1257.1 1033.6,1257.1 1033.6,1260.8 1034.9,1260.8 1034.9,1257.8 1036.2,1257.8 1036.2,1258.7 1037.5,1258.7 1037.5,1260.6 1038.8,1260.6 1038.8,1265.4 1041.4,1265.4 1041.4,1260.1 1042.7,1260.1 1042.7,1251.9 1044,1251.9 1044,1263.3 1045.3,1263.3 1045.3,1259.9 1046.6,1259.9 1046.6,1262.4 1047.9,1262.4 1047.9,1257.6 1050.5,1257.6 1050.5,1257.7 1051.8,1257.7 1051.8,1256.3 1053.1,1256.3 1053.1,1259.2 1054.4,1259.2 1054.4,1264.6 1055.7,1264.6 1055.7,1269.1 1057,1269.1 1057,1263.7 1059.6,1263.7 1059.6,1262.1 1060.9,1262.1 1060.9,1260.3 1062.2,1260.3 1062.2,1254.5 1063.5,1254.5 1063.5,1252.9 1066.1,1252.9 1066.1,1253.1 1068.7,1253.1 1068.7,1246.4 1070,1246.4 1070,1267.6 1072.6,1267.6 1072.6,1269.8 1073.9,1269.8 1073.9,1266 1075.2,1266 1075.2,1269.7 1076.5,1269.7 1076.5,1257.5 1079.1,1257.5 1079.1,1262 1081.7,1262 1081.7,1261 1083,1261 1083,1262.6 1085.6,1262.6 1085.6,1259.9 1086.9,1259.9 1086.9,1259.8 1089.5,1259.8 1089.5,1261.3 1092.1,1261.3 1092.1,1248.3 1093.4,1248.3 1093.4,1254.4 1096,1254.4 1096,1255.9 1097.3,1255.9 1097.3,1255.7 1099.9,1255.7 1099.9,1249.7 1101.2,1249.7 1101.2,1249.5 1103.8,1249.5 1103.8,1251.9 1105.1,1251.9 1105.1,1255.3 1106.4,1255.3 1106.4,1259.5 1107.7,1259.5 1107.7,1260.7 1109,1260.7 1109,1263.5 1111.6,1263.5 1111.6,1269.8 1114.2,1269.8 1114.2,1264.5 1116.8,1264.5 1116.8,1264.8 1118.1,1264.8 1118.1,1265.1 1119.4,1265.1 1119.4,1267 1122,1267 1122,1264.8 1124.6,1264.8 1124.6,1262.4 1125.9,1262.4 1125.9,1268.2 1128.5,1268.2 1128.5,1264.8 1129.8,1264.8 1129.8,1260.8 1131.1,1260.8 1131.1,1264 1132.4,1264 1132.4,1266.6 1133.7,1266.6 1133.7,1261 1135,1261 1135,1263.9 1136.3,1263.9 1136.3,1262.7 1137.6,1262.7 1137.6,1264.6 1138.9,1264.6 1138.9,1260.3 1141.5,1260.3 1141.5,1262.1 1142.8,1262.1 1142.8,1257.9 1144.1,1257.9 1144.1,1260.8 1145.4,1260.8 1145.4,1259.1 1146.7,1259.1 1146.7,1260.3 1149.3,1260.3 1149.3,1257.2 1151.9,1257.2 1151.9,1256.2 1153.2,1256.2 1153.2,1253.6 1154.5,1253.6 1154.5,1254.3 1157.1,1254.3 1157.1,1250.7 1159.7,1250.7 1159.7,1257.6 1161,1257.6 1161,1256.4 1162.3,1256.4 1162.3,1263.6 1163.6,1263.6 1163.6,1263.3 1164.9,1263.3 1164.9,1264.1 1167.5,1264.1 1167.5,1276.8 1170.1,1276.8 1170.1,1272.8 1171.4,1272.8 1171.4,1271.2 1172.7,1271.2 1172.7,1270.3 1174,1270.3 1174,1265.7 1176.6,1265.7 1176.6,1270.1 1177.9,1270.1 1177.9,1274 1179.2,1274 1179.2,1273.3 1180.5,1273.3 1180.5,1269.8 1181.8,1269.8 1181.8,1269.7 1183.1,1269.7 1183.1,1265.9 1184.4,1265.9 1184.4,1261.7 1185.7,1261.7 1185.7,1262.3 1187,1262.3 1187,1258.5 1189.6,1258.5 1189.6,1257.1 1190.9,1257.1 1190.9,1263.8 1193.5,1263.8 1193.5,1268.8 1194.8,1268.8 1194.8,1268.7 1196.1,1268.7 1196.1,1267.9 1197.4,1267.9 1197.4,1260.8 1200,1260.8 1200,1264.4 1201.3,1264.4 1201.3,1266 1203.9,1266 1203.9,1270.8 1205.2,1270.8 1205.2,1264.3 1207.8,1264.3 1207.8,1266.1 1210.4,1266.1 1210.4,1271.2 1211.7,1271.2 1211.7,1269.7 1214.3,1269.7 1214.3,1265.2 1215.6,1265.2 1215.6,1265.1 1218.2,1265.1 1218.2,1263 1219.5,1263 1219.5,1265.7 1220.8,1265.7 1220.8,1266 1223.4,1266 1223.4,1289.1 1220.8,1289.1 1220.8,1289.1 1219.5,1289.1 1219.5,1289.1 1218.2,1289.1 1218.2,1289.1 1215.6,1289.1 1215.6,1297.5 1214.3,1297.5 1214.3,1297.5 1211.7,1297.5 1211.7,1297.5 1210.4,1297.5 1210.4,1297.5 1207.8,1297.5 1207.8,1297.5 1205.2,1297.5 1205.2,1297.5 1203.9,1297.5 1203.9,1297.5 1201.3,1297.5 1201.3,1297.5 1200,1297.5 1200,1297.5 1197.4,1297.5 1197.4,1297.5 1196.1,1297.5 1196.1,1297.5 1194.8,1297.5 1194.8,1297.5 1193.5,1297.5 1193.5,1297.5 1190.9,1297.5 1190.9,1297.5 1189.6,1297.5 1189.6,1297.5 1187,1297.5 1187,1297.5 1185.7,1297.5 1185.7,1297.5 1184.4,1297.5 1184.4,1297.5 1183.1,1297.5 1183.1,1297.5 1181.8,1297.5 1181.8,1297.5 1180.5,1297.5 1180.5,1297.5 1179.2,1297.5 1179.2,1297.5 1177.9,1297.5 1177.9,1297.5 1176.6,1297.5 1176.6,1297.5 1174,1297.5 1174,1297.5 1172.7,1297.5 1172.7,1288.6 1171.4,1288.6 1171.4,1288.6 1170.1,1288.6 1170.1,1288.6 1167.5,1288.6 1167.5,1288.6 1164.9,1288.6 1164.9,1288.6 1163.6,1288.6 1163.6,1297.5 1162.3,1297.5 1162.3,1297.5 1161,1297.5 1161,1297.5 1159.7,1297.5 1159.7,1297.5 1157.1,1297.5 1157.1,1297.5 1154.5,1297.5 1154.5,1297.5 1153.2,1297.5 1153.2,1297.5 1151.9,1297.5 1151.9,1297.5 1149.3,1297.5 1149.3,1297.5 1146.7,1297.5 1146.7,1297.5 1145.4,1297.5 1145.4,1297.5 1144.1,1297.5 1144.1,1297.5 1142.8,1297.5 1142.8,1297.5 1141.5,1297.5 1141.5,1297.5 1138.9,1297.5 1138.9,1297.5 1137.6,1297.5 1137.6,1297.5 1136.3,1297.5 1136.3,1297.5 1135,1297.5 1135,1297.5 1133.7,1297.5 1133.7,1297.5 1132.4,1297.5 1132.4,1297.5 1131.1,1297.5 1131.1,1297.5 1129.8,1297.5 1129.8,1297.5 1128.5,1297.5 1128.5,1297.5 1125.9,1297.5 1125.9,1297.5 1124.6,1297.5 1124.6,1297.5 1122,1297.5 1122,1297.5 1119.4,1297.5 1119.4,1297.5 1118.1,1297.5 1118.1,1297.5 1116.8,1297.5 1116.8,1297.5 1114.2,1297.5 1114.2,1297.5 1111.6,1297.5 1111.6,1297.5 1109,1297.5 1109,1297.5 1107.7,1297.5 1107.7,1297.5 1106.4,1297.5 1106.4,1287.9 1105.1,1287.9 1105.1,1287.9 1103.8,1287.9 1103.8,1287.9 1101.2,1287.9 1101.2,1287.9 1099.9,1287.9 1099.9,1297.5 1097.3,1297.5 1097.3,1297.5 1096,1297.5 1096,1297.5 1093.4,1297.5 1093.4,1297.5 1092.1,1297.5 1092.1,1297.5 1089.5,1297.5 1089.5,1297.5 1086.9,1297.5 1086.9,1297.5 1085.6,1297.5 1085.6,1297.5 1083,1297.5 1083,1297.5 1081.7,1297.5 1081.7,1285.9 1079.1,1285.9 1079.1,1285.9 1076.5,1285.9 1076.5,1285.9 1075.2,1285.9 1075.2,1285.9 1073.9,1285.9 1073.9,1285.9 1072.6,1285.9 1072.6,1297.5 1070,1297.5 1070,1297.5 1068.7,1297.5 1068.7,1281.6 1066.1,1281.6 1066.1,1281.6 1063.5,1281.6 1063.5,1281.6 1062.2,1281.6 1062.2,1281.6 1060.9,1281.6 1060.9,1281.6 1059.6,1281.6 1059.6,1297.5 1057,1297.5 1057,1284.8 1055.7,1284.8 1055.7,1284.8 1054.4,1284.8 1054.4,1297.5 1053.1,1297.5 1053.1,1297.5 1051.8,1297.5 1051.8,1297.5 1050.5,1297.5 1050.5,1297.5 1047.9,1297.5 1047.9,1297.5 1046.6,1297.5 1046.6,1297.5 1045.3,1297.5 1045.3,1297.5 1044,1297.5 1044,1297.5 1042.7,1297.5 1042.7,1283.8 1041.4,1283.8 1041.4,1283.8 1038.8,1283.8 1038.8,1283.8 1037.5,1283.8 1037.5,1297.5 1036.2,1297.5 1036.2,1297.5 1034.9,1297.5 1034.9,1297.5 1033.6,1297.5 1033.6,1297.5 1032.3,1297.5 1032.3,1297.5 1029.7,1297.5 1029.7,1297.5 1027.1,1297.5 1027.1,1297.5 1024.5,1297.5 1024.5,1297.5 1021.9,1297.5 1021.9,1297.5 1020.6,1297.5 1020.6,1297.5 1019.3,1297.5 1019.3,1297.5 1018,1297.5 1018,1297.5 1015.4,1297.5 1015.4,1297.5 1012.8,1297.5 1012.8,1297.5 1011.5,1297.5 1011.5,1297.5 1008.9,1297.5 1008.9,1297.5 1007.6,1297.5 1007.6,1297.5 1005,1297.5 1005,1297.5 1003.7,1297.5 1003.7,1297.5 1001.1,1297.5 1001.1,1297.5 998.5,1297.5 998.5,1297.5 997.2,1297.5 997.2,1297.5 994.6,1297.5 994.6,1297.5 993.3,1297.5 993.3,1297.5 992,1297.5 992,1297.5 990.7,1297.5 990.7,1297.5 989.4,1297.5 989.4,1297.5 986.8,1297.5 986.8,1297.5 984.2,1297.5 984.2,1297.5 982.9,1297.5 982.9,1297.5 980.3,1297.5 980.3,1297.5 977.7,1297.5 977.7,1297.5 976.4,1297.5 976.4,1297.5 975.1,1297.5 975.1,1297.5 973.8,1297.5 973.8,1297.5 972.5,1297.5 972.5,1297.5 971.2,1297.5 971.2,1297.5 969.9,1297.5 969.9,1297.5 968.6,1297.5 968.6,1297.5 966,1297.5 966,1297.5 963.4,1297.5 963.4,1297.5 962.1,1297.5 962.1,1297.5 959.5,1297.5 959.5,1297.5 958.2,1297.5 958.2,1297.5 955.6,1297.5 955.6,1297.5 954.3,1297.5 954.3,1297.5 953,1297.5 953,1297.5 951.7,1297.5 951.7,1297.5 950.4,1297.5 950.4,1297.5 949.1,1297.5 949.1,1297.5 946.5,1297.5 946.5,1297.5 943.9,1297.5 943.9,1297.5 942.6,1297.5 942.6,1297.5 940,1297.5 940,1297.5 937.4,1297.5 937.4,1297.5 936.1,1297.5 936.1,1297.5 934.8,1297.5 934.8,1297.5 933.5,1297.5 933.5,1297.5 932.2,1297.5 932.2,1297.5 929.6,1297.5 929.6,1297.5 928.3,1297.5 928.3,1297.5 927,1297.5 927,1297.5 925.7,1297.5 925.7,1297.5 924.4,1297.5 924.4,1297.5 923.1,1297.5 923.1,1297.5 920.5,1297.5 920.5,1281.4 917.9,1281.4 917.9,1281.4 915.3,1281.4 915.3,1281.4 914,1281.4 914,1281.4 911.4,1281.4 911.4,1297.5 908.8,1297.5 908.8,1297.5 906.2,1297.5 906.2,1297.5 904.9,1297.5 904.9,1297.5 902.3,1297.5 902.3,1297.5 899.7,1297.5 899.7,1297.5 898.4,1297.5 898.4,1297.5 897.1,1297.5 897.1,1297.5 894.5,1297.5 894.5,1297.5 891.9,1297.5 891.9,1280 890.6,1280 890.6,1280 889.3,1280 889.3,1280 888,1280 888,1297.5 886.7,1297.5 886.7,1297.5 885.4,1297.5 885.4,1297.5 882.8,1297.5 882.8,1297.5 881.5,1297.5 881.5,1297.5 880.2,1297.5 880.2,1297.5 878.9,1297.5 878.9,1297.5 877.6,1297.5 877.6,1297.5 875,1297.5 875,1297.5 873.7,1297.5 873.7,1297.5 872.4,1297.5 872.4,1297.5 871.1,1297.5 871.1,1288.9 869.8,1288.9 869.8,1288.9 868.5,1288.9 868.5,1288.9 867.2,1288.9 867.2,1288.9 865.9,1288.9 865.9,1288.9 864.6,1288.9 864.6,1288.9 863.3,1288.9 863.3,1288.9 862,1288.9 862,1297.5 860.7,1297.5 860.7,1297.5 858.1,1297.5 858.1,1297.5 856.8,1297.5 856.8,1283.2 855.5,1283.2 855.5,1283.2 854.2,1283.2 854.2,1297.5 851.6,1297.5 851.6,1297.5 849,1297.5 849,1297.5 847.7,1297.5 847.7,1297.5 846.4,1297.5 846.4,1297.5 845.1,1297.5 845.1,1297.5 842.5,1297.5 842.5,1297.5 839.9,1297.5 839.9,1297.5 838.6,1297.5 838.6,1297.5 836,1297.5 836,1297.5 834.7,1297.5 834.7,1297.5 833.4,1297.5 833.4,1297.5 830.8,1297.5 830.8,1297.5 829.5,1297.5" fill="#ff0000"/>
<path d="M834.9,1295.5V1289.4 M842.1,1295.5V1288.8 M848.5,1295.5V1279.9 M863.8,1295.5V1287.5 M872.7,1295.5V1284.1 M887.4,1295.5V1287.5 M902.4,1295.5V1283.2 M916.1,1295.5V1284.6 M927.2,1295.5V1284.6 M942.2,1295.5V1288.5 M951.8,1295.5V1285.1 M966.7,1295.5V1291.5 M972.9,1295.5V1285.8 M980.2,1295.5V1280.1 M988.3,1295.5V1286.5 M1002,1295.5V1286.7 M1013,1295.5V1279.8 M1024.9,1295.5V1284.8 M1031.2,1295.5V1285.5 M1041.9,1295.5V1286.2 M1050.9,1295.5V1280.3 M1066.5,1295.5V1285.6 M1074.8,1295.5V1285.3 M1089,1295.5V1288.8 M1104.7,1295.5V1285 M1117.9,1295.5V1289.6 M1125.6,1295.5V1282 M1134.3,1295.5V1287.6 M1149.8,1295.5V1288.9 M1156.7,1295.5V1291 M1166.6,1295.5V1280.1 M1176.7,1295.5V1283.8 M1191.5,1295.5V1291.8 M1201.3,1295.5V1285.6 M1213.8,1295.5V1289.2" stroke="#fff" stroke-width="1.2" fill="none"/>
<rect x="1021.6" y="1034.3" width="6" height="261.2" fill="#ff0000"/>
<rect x="1026.5" y="1104" width="3.7" height="191.5" fill="#ff0000"/>
</g>
<line x1="829.5" y1="1260.2" x2="832.5" y2="1260.2" stroke="#000" stroke-width="2"/>
<line x1="829.5" y1="1224.9" x2="834.5" y2="1224.9" stroke="#000" stroke-width="2"/>
<line x1="829.5" y1="1189.6" x2="832.5" y2="1189.6" stroke="#000" stroke-width="2"/>
<line x1="829.5" y1="1154.3" x2="834.5" y2="1154.3" stroke="#000" stroke-width="2"/>
<line x1="829.5" y1="1119" x2="832.5" y2="1119" stroke="#000" stroke-width="2"/>
<line x1="829.5" y1="1083.7" x2="834.5" y2="1083.7" stroke="#000" stroke-width="2"/>
<line x1="829.5" y1="1048.4" x2="832.5" y2="1048.4" stroke="#000" stroke-width="2"/>
<line x1="829.5" y1="1013.1" x2="834.5" y2="1013.1" stroke="#000" stroke-width="2"/>
<text x="767.6" y="1022.4" font-size="35.5" fill="#000" textLength="52.08" lengthAdjust="spacingAndGlyphs">-20</text>
<text x="767.6" y="1093" font-size="35.5" fill="#000" textLength="52.08" lengthAdjust="spacingAndGlyphs">-40</text>
<text x="767.6" y="1163.6" font-size="35.5" fill="#000" textLength="52.08" lengthAdjust="spacingAndGlyphs">-60</text>
<text x="767.6" y="1234.2" font-size="35.5" fill="#000" textLength="52.08" lengthAdjust="spacingAndGlyphs">-80</text>
<text x="747.6" y="1304.8" font-size="35.5" fill="#000" textLength="72.12" lengthAdjust="spacingAndGlyphs">-100</text>
<text x="807.3" y="1329.5" font-size="36.8" fill="#000" textLength="40.73" lengthAdjust="spacingAndGlyphs">65</text>
<text x="872.6" y="1329.5" font-size="36.8" fill="#000" textLength="40.73" lengthAdjust="spacingAndGlyphs">70</text>
<text x="938.1" y="1329.5" font-size="36.8" fill="#000" textLength="40.73" lengthAdjust="spacingAndGlyphs">75</text>
<text x="1003.6" y="1329.5" font-size="36.8" fill="#000" textLength="40.73" lengthAdjust="spacingAndGlyphs">80</text>
<text x="1069" y="1329.5" font-size="36.8" fill="#000" textLength="40.73" lengthAdjust="spacingAndGlyphs">85</text>
<text x="1134.3" y="1329.5" font-size="36.8" fill="#000" textLength="40.73" lengthAdjust="spacingAndGlyphs">90</text>
<text x="1199.7" y="1329.5" font-size="36.8" fill="#000" textLength="40.73" lengthAdjust="spacingAndGlyphs">95</text>
<text x="885.9" y="1361.8" font-size="35.5" fill="#000" textLength="278.94" lengthAdjust="spacingAndGlyphs">Frequency (kHz)</text>
<text x="751.1" y="1280.5" font-size="36" fill="#000" textLength="243.79" lengthAdjust="spacingAndGlyphs" transform="rotate(-90 751.1 1280.5)">Intensity (dBm)</text>
<line x1="1023.7" y1="1034.3" x2="1072.6" y2="1034.3" stroke="#000" stroke-width="4"/>
<line x1="1026.8" y1="1259.5" x2="1075.7" y2="1259.5" stroke="#000" stroke-width="4"/>
<line x1="1051.7" y1="1044.3" x2="1051.7" y2="1249.5" stroke="#000" stroke-width="5"/>
<polygon points="1051.7,1035.8 1061.2,1064.3 1042.2,1064.3" fill="#000"/>
<polygon points="1051.7,1258 1061.2,1229.5 1042.2,1229.5" fill="#000"/>
<text x="1064" y="1156.4" font-size="35.5" fill="#000" textLength="110.46" lengthAdjust="spacingAndGlyphs">&gt;60dB</text>
</svg>
</body></html>
